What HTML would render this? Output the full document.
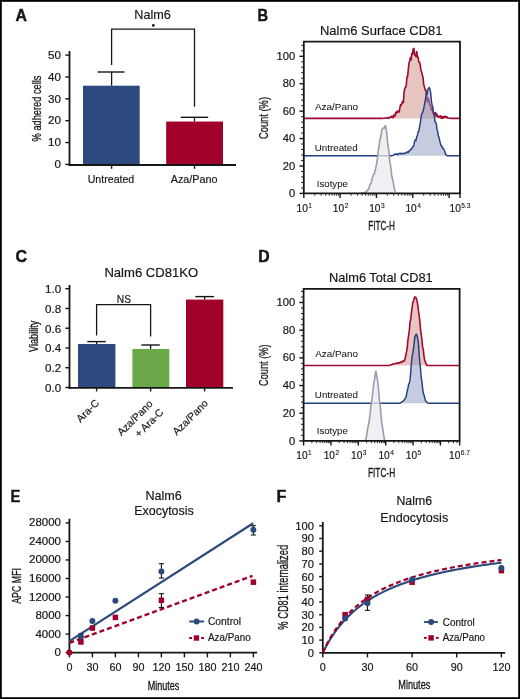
<!DOCTYPE html>
<html><head><meta charset="utf-8"><style>
html,body{margin:0;padding:0;background:#fff;}
svg{display:block;font-family:"Liberation Sans", sans-serif;will-change:transform;}
</style></head><body>
<svg width="520" height="699" viewBox="0 0 520 699">
<rect x="0" y="0" width="520" height="699" fill="#fff"/>
<rect x="0.9" y="0.9" width="518.2" height="697.2" fill="none" stroke="#000" stroke-width="1.8"/>
<text x="15.6" y="21.4" font-size="16.0" textLength="11.4" lengthAdjust="spacingAndGlyphs" font-weight="bold" fill="#161616" stroke="#161616" stroke-width="0.45">A</text>
<text x="152.6" y="19.3" font-size="13" text-anchor="middle" textLength="36.5" lengthAdjust="spacingAndGlyphs" fill="#161616" stroke="#161616" stroke-width="0.18">Nalm6</text>
<path d="M111.6 65 V29.2 H194.5 V106.7" fill="none" stroke="#161616" stroke-width="1.3"/>
<circle cx="153.3" cy="25.4" r="1.4" fill="#161616"/>
<line x1="65.30" y1="164.40" x2="69.50" y2="164.40" stroke="#161616" stroke-width="1.4"/>
<text x="61.0" y="168.1" font-size="10.4" text-anchor="end" textLength="6.48" lengthAdjust="spacingAndGlyphs" fill="#161616" stroke="#161616" stroke-width="0.18">0</text>
<line x1="65.30" y1="142.54" x2="69.50" y2="142.54" stroke="#161616" stroke-width="1.4"/>
<text x="61.0" y="146.24" font-size="10.4" text-anchor="end" textLength="12.96" lengthAdjust="spacingAndGlyphs" fill="#161616" stroke="#161616" stroke-width="0.18">10</text>
<line x1="65.30" y1="120.68" x2="69.50" y2="120.68" stroke="#161616" stroke-width="1.4"/>
<text x="61.0" y="124.38000000000001" font-size="10.4" text-anchor="end" textLength="12.96" lengthAdjust="spacingAndGlyphs" fill="#161616" stroke="#161616" stroke-width="0.18">20</text>
<line x1="65.30" y1="98.82" x2="69.50" y2="98.82" stroke="#161616" stroke-width="1.4"/>
<text x="61.0" y="102.52000000000001" font-size="10.4" text-anchor="end" textLength="12.96" lengthAdjust="spacingAndGlyphs" fill="#161616" stroke="#161616" stroke-width="0.18">30</text>
<line x1="65.30" y1="76.96" x2="69.50" y2="76.96" stroke="#161616" stroke-width="1.4"/>
<text x="61.0" y="80.66000000000001" font-size="10.4" text-anchor="end" textLength="12.96" lengthAdjust="spacingAndGlyphs" fill="#161616" stroke="#161616" stroke-width="0.18">40</text>
<line x1="65.30" y1="55.10" x2="69.50" y2="55.10" stroke="#161616" stroke-width="1.4"/>
<text x="61.0" y="58.80000000000001" font-size="10.4" text-anchor="end" textLength="12.96" lengthAdjust="spacingAndGlyphs" fill="#161616" stroke="#161616" stroke-width="0.18">50</text>
<rect x="83.00" y="85.70" width="56.70" height="78.70" fill="#2c4a7e"/>
<rect x="166.20" y="121.55" width="56.80" height="42.85" fill="#a0002a"/>
<line x1="111.60" y1="72.00" x2="111.60" y2="85.70" stroke="#161616" stroke-width="1.3"/>
<line x1="97.50" y1="72.00" x2="124.50" y2="72.00" stroke="#161616" stroke-width="1.4"/>
<line x1="194.50" y1="117.30" x2="194.50" y2="121.55" stroke="#161616" stroke-width="1.3"/>
<line x1="180.80" y1="117.30" x2="208.20" y2="117.30" stroke="#161616" stroke-width="1.4"/>
<line x1="69.50" y1="51.00" x2="69.50" y2="165.90" stroke="#161616" stroke-width="1.8"/>
<line x1="68.60" y1="165.00" x2="236.00" y2="165.00" stroke="#161616" stroke-width="1.8"/>
<line x1="111.60" y1="164.40" x2="111.60" y2="168.80" stroke="#161616" stroke-width="1.4"/>
<line x1="194.50" y1="164.40" x2="194.50" y2="168.80" stroke="#161616" stroke-width="1.4"/>
<text x="111" y="183.4" font-size="10.5" text-anchor="middle" textLength="46.6" lengthAdjust="spacingAndGlyphs" fill="#161616" stroke="#161616" stroke-width="0.18">Untreated</text>
<text x="194.1" y="183.4" font-size="10.5" text-anchor="middle" textLength="46.6" lengthAdjust="spacingAndGlyphs" fill="#161616" stroke="#161616" stroke-width="0.18">Aza/Pano</text>
<text transform="translate(41.1,108.5) rotate(-90)" x="0" y="0" font-size="13.4" text-anchor="middle" textLength="65.8" lengthAdjust="spacingAndGlyphs" fill="#161616" stroke="#161616" stroke-width="0.28">% adhered cells</text>
<text x="257.6" y="21.2" font-size="16.0" textLength="10.6" lengthAdjust="spacingAndGlyphs" font-weight="bold" fill="#161616" stroke="#161616" stroke-width="0.45">B</text>
<text x="381.25" y="35.0" font-size="12.8" text-anchor="middle" textLength="122.5" lengthAdjust="spacingAndGlyphs" fill="#161616" stroke="#161616" stroke-width="0.18">Nalm6 Surface CD81</text>
<path d="M304.00 118.40 L304.70 118.40 L305.40 118.40 L306.10 118.40 L306.80 118.40 L307.50 118.40 L308.20 118.40 L308.90 118.40 L309.60 118.40 L310.30 118.40 L311.00 118.40 L311.70 118.40 L312.40 118.40 L313.10 118.40 L313.80 118.40 L314.50 118.40 L315.20 118.40 L315.90 118.40 L316.60 118.40 L317.30 118.40 L318.00 118.40 L318.70 118.40 L319.40 118.40 L320.10 118.40 L320.80 118.40 L321.50 118.40 L322.20 118.40 L322.90 118.40 L323.60 118.40 L324.30 118.40 L325.00 118.40 L325.70 118.40 L326.40 118.40 L327.10 118.40 L327.80 118.40 L328.50 118.40 L329.20 118.40 L329.90 118.40 L330.60 118.40 L331.30 118.40 L332.00 118.40 L332.70 118.40 L333.40 118.40 L334.10 118.40 L334.80 118.40 L335.50 118.40 L336.20 118.40 L336.90 118.40 L337.60 118.40 L338.30 118.40 L339.00 118.40 L339.70 118.40 L340.40 118.40 L341.10 118.40 L341.80 118.40 L342.50 118.40 L343.20 118.40 L343.90 118.40 L344.60 118.40 L345.30 118.40 L346.00 118.40 L346.70 118.40 L347.40 118.40 L348.10 118.40 L348.80 118.40 L349.50 118.40 L350.20 118.40 L350.90 118.40 L351.60 118.40 L352.30 118.40 L353.00 118.40 L353.70 118.40 L354.40 118.40 L355.10 118.40 L355.80 118.40 L356.50 118.40 L357.20 118.40 L357.90 118.40 L358.60 118.40 L359.30 118.40 L360.00 118.40 L360.70 118.40 L361.40 118.40 L362.10 118.40 L362.80 118.40 L363.50 118.40 L364.20 118.40 L364.90 118.40 L365.60 118.40 L366.30 118.40 L367.00 118.40 L367.70 118.40 L368.40 118.40 L369.10 118.40 L369.80 118.40 L370.50 118.40 L371.20 118.40 L371.90 118.40 L372.60 118.40 L373.30 118.40 L374.00 118.40 L374.70 118.40 L375.40 118.40 L376.10 118.40 L376.80 118.40 L377.50 118.40 L378.20 118.40 L378.90 118.40 L379.60 118.40 L380.30 118.40 L381.00 118.40 L381.70 118.40 L382.40 118.38 L383.10 118.33 L383.80 118.25 L384.50 118.17 L385.20 118.07 L385.90 117.98 L386.60 117.90 L387.30 117.84 L388.00 117.80 L388.70 118.33 L389.40 117.36 L390.10 117.57 L390.80 116.65 L391.50 116.29 L392.20 117.68 L392.90 117.66 L393.60 114.98 L394.30 116.50 L395.00 116.01 L395.70 112.40 L396.40 113.49 L397.10 111.15 L397.80 112.20 L398.50 110.80 L399.20 112.01 L399.90 107.77 L400.60 104.49 L401.30 105.28 L402.00 102.86 L402.70 100.98 L403.40 102.59 L404.10 91.76 L404.80 88.50 L405.50 86.96 L406.20 86.49 L406.90 76.95 L407.60 76.67 L408.30 69.41 L409.00 63.02 L409.70 60.95 L410.40 57.50 L411.10 60.02 L411.80 53.60 L412.50 54.46 L413.20 48.93 L413.90 48.42 L414.60 54.62 L415.30 55.45 L416.00 56.60 L416.70 51.45 L417.40 57.13 L418.10 57.13 L418.80 62.22 L419.50 62.19 L420.20 64.76 L420.90 70.23 L421.60 71.80 L422.30 74.97 L423.00 77.04 L423.70 84.52 L424.40 86.84 L425.10 89.90 L425.80 89.90 L426.50 94.63 L427.20 101.49 L427.90 97.80 L428.60 99.53 L429.30 102.02 L430.00 105.54 L430.70 105.52 L431.40 110.06 L432.10 108.43 L432.80 111.56 L433.50 114.12 L434.20 115.54 L434.90 112.73 L435.60 112.61 L436.30 116.29 L437.00 114.29 L437.70 116.05 L438.40 117.25 L439.10 117.13 L439.80 115.99 L440.50 115.78 L441.20 118.17 L441.90 116.65 L442.60 118.30 L443.30 116.58 L444.00 117.73 L444.70 116.41 L445.40 116.30 L446.10 117.65 L446.80 116.56 L447.50 117.92 L448.20 118.03 L448.90 118.14 L449.60 118.23 L450.30 118.31 L451.00 118.37 L451.70 118.40 L452.40 118.40 L453.10 118.40 L453.80 118.40 L454.50 118.40 L455.20 118.40 L455.90 118.40 L456.60 118.40 L457.30 118.40 L458.00 118.40 L458.70 118.40 L459.40 118.40 L459.40 118.4 L304.00 118.4 Z" fill="#e7c6c2" fill-opacity="1.0" stroke="none"/>
<path d="M304.00 118.40 L304.70 118.40 L305.40 118.40 L306.10 118.40 L306.80 118.40 L307.50 118.40 L308.20 118.40 L308.90 118.40 L309.60 118.40 L310.30 118.40 L311.00 118.40 L311.70 118.40 L312.40 118.40 L313.10 118.40 L313.80 118.40 L314.50 118.40 L315.20 118.40 L315.90 118.40 L316.60 118.40 L317.30 118.40 L318.00 118.40 L318.70 118.40 L319.40 118.40 L320.10 118.40 L320.80 118.40 L321.50 118.40 L322.20 118.40 L322.90 118.40 L323.60 118.40 L324.30 118.40 L325.00 118.40 L325.70 118.40 L326.40 118.40 L327.10 118.40 L327.80 118.40 L328.50 118.40 L329.20 118.40 L329.90 118.40 L330.60 118.40 L331.30 118.40 L332.00 118.40 L332.70 118.40 L333.40 118.40 L334.10 118.40 L334.80 118.40 L335.50 118.40 L336.20 118.40 L336.90 118.40 L337.60 118.40 L338.30 118.40 L339.00 118.40 L339.70 118.40 L340.40 118.40 L341.10 118.40 L341.80 118.40 L342.50 118.40 L343.20 118.40 L343.90 118.40 L344.60 118.40 L345.30 118.40 L346.00 118.40 L346.70 118.40 L347.40 118.40 L348.10 118.40 L348.80 118.40 L349.50 118.40 L350.20 118.40 L350.90 118.40 L351.60 118.40 L352.30 118.40 L353.00 118.40 L353.70 118.40 L354.40 118.40 L355.10 118.40 L355.80 118.40 L356.50 118.40 L357.20 118.40 L357.90 118.40 L358.60 118.40 L359.30 118.40 L360.00 118.40 L360.70 118.40 L361.40 118.40 L362.10 118.40 L362.80 118.40 L363.50 118.40 L364.20 118.40 L364.90 118.40 L365.60 118.40 L366.30 118.40 L367.00 118.40 L367.70 118.40 L368.40 118.40 L369.10 118.40 L369.80 118.40 L370.50 118.40 L371.20 118.40 L371.90 118.40 L372.60 118.40 L373.30 118.40 L374.00 118.40 L374.70 118.40 L375.40 118.40 L376.10 118.40 L376.80 118.40 L377.50 118.40 L378.20 118.40 L378.90 118.40 L379.60 118.40 L380.30 118.40 L381.00 118.40 L381.70 118.40 L382.40 118.38 L383.10 118.33 L383.80 118.25 L384.50 118.17 L385.20 118.07 L385.90 117.98 L386.60 117.90 L387.30 117.84 L388.00 117.80 L388.70 118.33 L389.40 117.36 L390.10 117.57 L390.80 116.65 L391.50 116.29 L392.20 117.68 L392.90 117.66 L393.60 114.98 L394.30 116.50 L395.00 116.01 L395.70 112.40 L396.40 113.49 L397.10 111.15 L397.80 112.20 L398.50 110.80 L399.20 112.01 L399.90 107.77 L400.60 104.49 L401.30 105.28 L402.00 102.86 L402.70 100.98 L403.40 102.59 L404.10 91.76 L404.80 88.50 L405.50 86.96 L406.20 86.49 L406.90 76.95 L407.60 76.67 L408.30 69.41 L409.00 63.02 L409.70 60.95 L410.40 57.50 L411.10 60.02 L411.80 53.60 L412.50 54.46 L413.20 48.93 L413.90 48.42 L414.60 54.62 L415.30 55.45 L416.00 56.60 L416.70 51.45 L417.40 57.13 L418.10 57.13 L418.80 62.22 L419.50 62.19 L420.20 64.76 L420.90 70.23 L421.60 71.80 L422.30 74.97 L423.00 77.04 L423.70 84.52 L424.40 86.84 L425.10 89.90 L425.80 89.90 L426.50 94.63 L427.20 101.49 L427.90 97.80 L428.60 99.53 L429.30 102.02 L430.00 105.54 L430.70 105.52 L431.40 110.06 L432.10 108.43 L432.80 111.56 L433.50 114.12 L434.20 115.54 L434.90 112.73 L435.60 112.61 L436.30 116.29 L437.00 114.29 L437.70 116.05 L438.40 117.25 L439.10 117.13 L439.80 115.99 L440.50 115.78 L441.20 118.17 L441.90 116.65 L442.60 118.30 L443.30 116.58 L444.00 117.73 L444.70 116.41 L445.40 116.30 L446.10 117.65 L446.80 116.56 L447.50 117.92 L448.20 118.03 L448.90 118.14 L449.60 118.23 L450.30 118.31 L451.00 118.37 L451.70 118.40 L452.40 118.40 L453.10 118.40 L453.80 118.40 L454.50 118.40 L455.20 118.40 L455.90 118.40 L456.60 118.40 L457.30 118.40 L458.00 118.40 L458.70 118.40 L459.40 118.40" fill="none" stroke="#a00a30" stroke-width="1.6" stroke-linejoin="round"/>
<path d="M304.00 155.80 L304.70 155.80 L305.40 155.80 L306.10 155.80 L306.80 155.80 L307.50 155.80 L308.20 155.80 L308.90 155.80 L309.60 155.80 L310.30 155.80 L311.00 155.80 L311.70 155.80 L312.40 155.80 L313.10 155.80 L313.80 155.80 L314.50 155.80 L315.20 155.80 L315.90 155.80 L316.60 155.80 L317.30 155.80 L318.00 155.80 L318.70 155.80 L319.40 155.80 L320.10 155.80 L320.80 155.80 L321.50 155.80 L322.20 155.80 L322.90 155.80 L323.60 155.80 L324.30 155.80 L325.00 155.80 L325.70 155.80 L326.40 155.80 L327.10 155.80 L327.80 155.80 L328.50 155.80 L329.20 155.80 L329.90 155.80 L330.60 155.80 L331.30 155.80 L332.00 155.80 L332.70 155.80 L333.40 155.80 L334.10 155.80 L334.80 155.80 L335.50 155.80 L336.20 155.80 L336.90 155.80 L337.60 155.80 L338.30 155.80 L339.00 155.80 L339.70 155.80 L340.40 155.80 L341.10 155.80 L341.80 155.80 L342.50 155.80 L343.20 155.80 L343.90 155.80 L344.60 155.80 L345.30 155.80 L346.00 155.80 L346.70 155.80 L347.40 155.80 L348.10 155.80 L348.80 155.80 L349.50 155.80 L350.20 155.80 L350.90 155.80 L351.60 155.80 L352.30 155.80 L353.00 155.80 L353.70 155.80 L354.40 155.80 L355.10 155.80 L355.80 155.80 L356.50 155.80 L357.20 155.80 L357.90 155.80 L358.60 155.80 L359.30 155.80 L360.00 155.80 L360.70 155.80 L361.40 155.80 L362.10 155.80 L362.80 155.80 L363.50 155.80 L364.20 155.80 L364.90 155.80 L365.60 155.80 L366.30 155.80 L367.00 155.80 L367.70 155.80 L368.40 155.80 L369.10 155.80 L369.80 155.80 L370.50 155.80 L371.20 155.80 L371.90 155.80 L372.60 155.80 L373.30 155.80 L374.00 155.80 L374.70 155.80 L375.40 155.80 L376.10 155.80 L376.80 155.80 L377.50 155.80 L378.20 155.80 L378.90 155.80 L379.60 155.80 L380.30 155.80 L381.00 155.80 L381.70 155.80 L382.40 155.80 L383.10 155.80 L383.80 155.80 L384.50 155.80 L385.20 155.80 L385.90 155.80 L386.60 155.80 L387.30 155.80 L388.00 155.80 L388.70 155.80 L389.40 155.80 L390.10 155.80 L390.80 155.80 L391.50 155.80 L392.20 155.64 L392.90 155.36 L393.60 154.92 L394.30 154.51 L395.00 154.28 L395.70 154.05 L396.40 154.16 L397.10 153.81 L397.80 154.67 L398.50 154.03 L399.20 153.36 L399.90 153.63 L400.60 153.26 L401.30 154.10 L402.00 153.54 L402.70 153.68 L403.40 153.20 L404.10 153.10 L404.80 153.71 L405.50 153.27 L406.20 153.00 L406.90 151.95 L407.60 152.04 L408.30 152.52 L409.00 150.86 L409.70 151.01 L410.40 149.25 L411.10 149.36 L411.80 149.10 L412.50 146.63 L413.20 146.72 L413.90 145.00 L414.60 141.07 L415.30 139.78 L416.00 140.67 L416.70 136.72 L417.40 135.31 L418.10 131.80 L418.80 131.40 L419.50 126.85 L420.20 124.00 L420.90 118.29 L421.60 114.10 L422.30 113.22 L423.00 111.19 L423.70 108.82 L424.40 104.88 L425.10 101.03 L425.80 96.77 L426.50 93.63 L427.20 94.30 L427.90 89.42 L428.60 88.28 L429.30 87.40 L430.00 88.94 L430.70 93.10 L431.40 100.89 L432.10 105.28 L432.80 106.87 L433.50 112.96 L434.20 114.06 L434.90 121.63 L435.60 122.06 L436.30 123.53 L437.00 129.80 L437.70 131.31 L438.40 136.35 L439.10 137.23 L439.80 141.17 L440.50 143.70 L441.20 145.90 L441.90 145.86 L442.60 148.24 L443.30 148.26 L444.00 149.50 L444.70 151.22 L445.40 153.64 L446.10 154.91 L446.80 155.64 L447.50 155.80 L448.20 155.80 L448.90 155.80 L449.60 155.80 L450.30 155.80 L451.00 155.80 L451.70 155.80 L452.40 155.80 L453.10 155.80 L453.80 155.80 L454.50 155.80 L455.20 155.80 L455.90 155.80 L456.60 155.80 L457.30 155.80 L458.00 155.80 L458.70 155.80 L459.40 155.80 L459.40 155.8 L304.00 155.8 Z" fill="#8f98c2" fill-opacity="0.5" stroke="none"/>
<path d="M304.00 155.80 L304.70 155.80 L305.40 155.80 L306.10 155.80 L306.80 155.80 L307.50 155.80 L308.20 155.80 L308.90 155.80 L309.60 155.80 L310.30 155.80 L311.00 155.80 L311.70 155.80 L312.40 155.80 L313.10 155.80 L313.80 155.80 L314.50 155.80 L315.20 155.80 L315.90 155.80 L316.60 155.80 L317.30 155.80 L318.00 155.80 L318.70 155.80 L319.40 155.80 L320.10 155.80 L320.80 155.80 L321.50 155.80 L322.20 155.80 L322.90 155.80 L323.60 155.80 L324.30 155.80 L325.00 155.80 L325.70 155.80 L326.40 155.80 L327.10 155.80 L327.80 155.80 L328.50 155.80 L329.20 155.80 L329.90 155.80 L330.60 155.80 L331.30 155.80 L332.00 155.80 L332.70 155.80 L333.40 155.80 L334.10 155.80 L334.80 155.80 L335.50 155.80 L336.20 155.80 L336.90 155.80 L337.60 155.80 L338.30 155.80 L339.00 155.80 L339.70 155.80 L340.40 155.80 L341.10 155.80 L341.80 155.80 L342.50 155.80 L343.20 155.80 L343.90 155.80 L344.60 155.80 L345.30 155.80 L346.00 155.80 L346.70 155.80 L347.40 155.80 L348.10 155.80 L348.80 155.80 L349.50 155.80 L350.20 155.80 L350.90 155.80 L351.60 155.80 L352.30 155.80 L353.00 155.80 L353.70 155.80 L354.40 155.80 L355.10 155.80 L355.80 155.80 L356.50 155.80 L357.20 155.80 L357.90 155.80 L358.60 155.80 L359.30 155.80 L360.00 155.80 L360.70 155.80 L361.40 155.80 L362.10 155.80 L362.80 155.80 L363.50 155.80 L364.20 155.80 L364.90 155.80 L365.60 155.80 L366.30 155.80 L367.00 155.80 L367.70 155.80 L368.40 155.80 L369.10 155.80 L369.80 155.80 L370.50 155.80 L371.20 155.80 L371.90 155.80 L372.60 155.80 L373.30 155.80 L374.00 155.80 L374.70 155.80 L375.40 155.80 L376.10 155.80 L376.80 155.80 L377.50 155.80 L378.20 155.80 L378.90 155.80 L379.60 155.80 L380.30 155.80 L381.00 155.80 L381.70 155.80 L382.40 155.80 L383.10 155.80 L383.80 155.80 L384.50 155.80 L385.20 155.80 L385.90 155.80 L386.60 155.80 L387.30 155.80 L388.00 155.80 L388.70 155.80 L389.40 155.80 L390.10 155.80 L390.80 155.80 L391.50 155.80 L392.20 155.64 L392.90 155.36 L393.60 154.92 L394.30 154.51 L395.00 154.28 L395.70 154.05 L396.40 154.16 L397.10 153.81 L397.80 154.67 L398.50 154.03 L399.20 153.36 L399.90 153.63 L400.60 153.26 L401.30 154.10 L402.00 153.54 L402.70 153.68 L403.40 153.20 L404.10 153.10 L404.80 153.71 L405.50 153.27 L406.20 153.00 L406.90 151.95 L407.60 152.04 L408.30 152.52 L409.00 150.86 L409.70 151.01 L410.40 149.25 L411.10 149.36 L411.80 149.10 L412.50 146.63 L413.20 146.72 L413.90 145.00 L414.60 141.07 L415.30 139.78 L416.00 140.67 L416.70 136.72 L417.40 135.31 L418.10 131.80 L418.80 131.40 L419.50 126.85 L420.20 124.00 L420.90 118.29 L421.60 114.10 L422.30 113.22 L423.00 111.19 L423.70 108.82 L424.40 104.88 L425.10 101.03 L425.80 96.77 L426.50 93.63 L427.20 94.30 L427.90 89.42 L428.60 88.28 L429.30 87.40 L430.00 88.94 L430.70 93.10 L431.40 100.89 L432.10 105.28 L432.80 106.87 L433.50 112.96 L434.20 114.06 L434.90 121.63 L435.60 122.06 L436.30 123.53 L437.00 129.80 L437.70 131.31 L438.40 136.35 L439.10 137.23 L439.80 141.17 L440.50 143.70 L441.20 145.90 L441.90 145.86 L442.60 148.24 L443.30 148.26 L444.00 149.50 L444.70 151.22 L445.40 153.64 L446.10 154.91 L446.80 155.64 L447.50 155.80 L448.20 155.80 L448.90 155.80 L449.60 155.80 L450.30 155.80 L451.00 155.80 L451.70 155.80 L452.40 155.80 L453.10 155.80 L453.80 155.80 L454.50 155.80 L455.20 155.80 L455.90 155.80 L456.60 155.80 L457.30 155.80 L458.00 155.80 L458.70 155.80 L459.40 155.80" fill="none" stroke="#223f80" stroke-width="1.45" stroke-linejoin="round"/>
<path d="M361.00 193.40 L361.70 193.30 L362.40 193.13 L363.10 192.92 L363.80 192.75 L364.50 192.68 L365.20 192.75 L365.90 191.53 L366.60 191.68 L367.30 190.42 L368.00 189.51 L368.70 189.27 L369.40 186.41 L370.10 184.09 L370.80 183.98 L371.50 181.70 L372.20 178.26 L372.90 176.42 L373.60 174.14 L374.30 174.13 L375.00 171.04 L375.70 168.35 L376.40 164.61 L377.10 161.25 L377.80 155.37 L378.50 149.12 L379.20 145.50 L379.90 138.87 L380.60 138.31 L381.30 133.49 L382.00 129.44 L382.70 128.37 L383.40 127.98 L384.10 128.23 L384.80 126.26 L385.50 125.70 L386.20 129.53 L386.90 134.55 L387.60 142.97 L388.30 147.74 L389.00 151.75 L389.70 161.17 L390.40 164.37 L391.10 169.84 L391.80 176.50 L392.50 178.84 L393.20 181.85 L393.90 186.27 L394.60 189.32 L395.30 192.09 L395.30 193.4 L361.00 193.4 Z" fill="#ebebef" fill-opacity="0.75" stroke="none"/>
<path d="M361.00 193.40 L361.70 193.30 L362.40 193.13 L363.10 192.92 L363.80 192.75 L364.50 192.68 L365.20 192.75 L365.90 191.53 L366.60 191.68 L367.30 190.42 L368.00 189.51 L368.70 189.27 L369.40 186.41 L370.10 184.09 L370.80 183.98 L371.50 181.70 L372.20 178.26 L372.90 176.42 L373.60 174.14 L374.30 174.13 L375.00 171.04 L375.70 168.35 L376.40 164.61 L377.10 161.25 L377.80 155.37 L378.50 149.12 L379.20 145.50 L379.90 138.87 L380.60 138.31 L381.30 133.49 L382.00 129.44 L382.70 128.37 L383.40 127.98 L384.10 128.23 L384.80 126.26 L385.50 125.70 L386.20 129.53 L386.90 134.55 L387.60 142.97 L388.30 147.74 L389.00 151.75 L389.70 161.17 L390.40 164.37 L391.10 169.84 L391.80 176.50 L392.50 178.84 L393.20 181.85 L393.90 186.27 L394.60 189.32 L395.30 192.09" fill="none" stroke="#9c9cae" stroke-width="1.6" stroke-linejoin="round"/>
<path d="M303.8 41.6 H460.0 V193.4 H303.8 Z" fill="none" stroke="#161616" stroke-width="1.8"/>
<line x1="299.50" y1="193.40" x2="303.80" y2="193.40" stroke="#161616" stroke-width="1.4"/>
<text x="295.3" y="197.0" font-size="10.2" text-anchor="end" textLength="6.24" lengthAdjust="spacingAndGlyphs" fill="#161616" stroke="#161616" stroke-width="0.18">0</text>
<line x1="301.20" y1="187.92" x2="303.80" y2="187.92" stroke="#161616" stroke-width="1.0"/>
<line x1="301.20" y1="182.43" x2="303.80" y2="182.43" stroke="#161616" stroke-width="1.0"/>
<line x1="301.20" y1="176.95" x2="303.80" y2="176.95" stroke="#161616" stroke-width="1.0"/>
<line x1="301.20" y1="171.46" x2="303.80" y2="171.46" stroke="#161616" stroke-width="1.0"/>
<line x1="299.50" y1="165.98" x2="303.80" y2="165.98" stroke="#161616" stroke-width="1.4"/>
<text x="295.3" y="169.58" font-size="10.2" text-anchor="end" textLength="12.48" lengthAdjust="spacingAndGlyphs" fill="#161616" stroke="#161616" stroke-width="0.18">20</text>
<line x1="301.20" y1="160.50" x2="303.80" y2="160.50" stroke="#161616" stroke-width="1.0"/>
<line x1="301.20" y1="155.01" x2="303.80" y2="155.01" stroke="#161616" stroke-width="1.0"/>
<line x1="301.20" y1="149.53" x2="303.80" y2="149.53" stroke="#161616" stroke-width="1.0"/>
<line x1="301.20" y1="144.04" x2="303.80" y2="144.04" stroke="#161616" stroke-width="1.0"/>
<line x1="299.50" y1="138.56" x2="303.80" y2="138.56" stroke="#161616" stroke-width="1.4"/>
<text x="295.3" y="142.16" font-size="10.2" text-anchor="end" textLength="12.48" lengthAdjust="spacingAndGlyphs" fill="#161616" stroke="#161616" stroke-width="0.18">40</text>
<line x1="301.20" y1="133.08" x2="303.80" y2="133.08" stroke="#161616" stroke-width="1.0"/>
<line x1="301.20" y1="127.59" x2="303.80" y2="127.59" stroke="#161616" stroke-width="1.0"/>
<line x1="301.20" y1="122.11" x2="303.80" y2="122.11" stroke="#161616" stroke-width="1.0"/>
<line x1="301.20" y1="116.62" x2="303.80" y2="116.62" stroke="#161616" stroke-width="1.0"/>
<line x1="299.50" y1="111.14" x2="303.80" y2="111.14" stroke="#161616" stroke-width="1.4"/>
<text x="295.3" y="114.74" font-size="10.2" text-anchor="end" textLength="12.48" lengthAdjust="spacingAndGlyphs" fill="#161616" stroke="#161616" stroke-width="0.18">60</text>
<line x1="301.20" y1="105.66" x2="303.80" y2="105.66" stroke="#161616" stroke-width="1.0"/>
<line x1="301.20" y1="100.17" x2="303.80" y2="100.17" stroke="#161616" stroke-width="1.0"/>
<line x1="301.20" y1="94.69" x2="303.80" y2="94.69" stroke="#161616" stroke-width="1.0"/>
<line x1="301.20" y1="89.20" x2="303.80" y2="89.20" stroke="#161616" stroke-width="1.0"/>
<line x1="299.50" y1="83.72" x2="303.80" y2="83.72" stroke="#161616" stroke-width="1.4"/>
<text x="295.3" y="87.32" font-size="10.2" text-anchor="end" textLength="12.48" lengthAdjust="spacingAndGlyphs" fill="#161616" stroke="#161616" stroke-width="0.18">80</text>
<line x1="301.20" y1="78.24" x2="303.80" y2="78.24" stroke="#161616" stroke-width="1.0"/>
<line x1="301.20" y1="72.75" x2="303.80" y2="72.75" stroke="#161616" stroke-width="1.0"/>
<line x1="301.20" y1="67.27" x2="303.80" y2="67.27" stroke="#161616" stroke-width="1.0"/>
<line x1="301.20" y1="61.78" x2="303.80" y2="61.78" stroke="#161616" stroke-width="1.0"/>
<line x1="299.50" y1="56.30" x2="303.80" y2="56.30" stroke="#161616" stroke-width="1.4"/>
<text x="295.3" y="59.90000000000001" font-size="10.2" text-anchor="end" textLength="18.72" lengthAdjust="spacingAndGlyphs" fill="#161616" stroke="#161616" stroke-width="0.18">100</text>
<line x1="301.20" y1="50.82" x2="303.80" y2="50.82" stroke="#161616" stroke-width="1.0"/>
<line x1="301.20" y1="45.33" x2="303.80" y2="45.33" stroke="#161616" stroke-width="1.0"/>
<line x1="303.80" y1="193.40" x2="303.80" y2="198.00" stroke="#161616" stroke-width="1.4"/>
<line x1="314.74" y1="193.40" x2="314.74" y2="195.70" stroke="#161616" stroke-width="0.9"/>
<line x1="321.13" y1="193.40" x2="321.13" y2="195.70" stroke="#161616" stroke-width="0.9"/>
<line x1="325.67" y1="193.40" x2="325.67" y2="195.70" stroke="#161616" stroke-width="0.9"/>
<line x1="329.19" y1="193.40" x2="329.19" y2="195.70" stroke="#161616" stroke-width="0.9"/>
<line x1="332.07" y1="193.40" x2="332.07" y2="195.70" stroke="#161616" stroke-width="0.9"/>
<line x1="334.50" y1="193.40" x2="334.50" y2="195.70" stroke="#161616" stroke-width="0.9"/>
<line x1="336.61" y1="193.40" x2="336.61" y2="195.70" stroke="#161616" stroke-width="0.9"/>
<line x1="338.46" y1="193.40" x2="338.46" y2="195.70" stroke="#161616" stroke-width="0.9"/>
<line x1="340.13" y1="193.40" x2="340.13" y2="198.00" stroke="#161616" stroke-width="1.4"/>
<line x1="351.06" y1="193.40" x2="351.06" y2="195.70" stroke="#161616" stroke-width="0.9"/>
<line x1="357.46" y1="193.40" x2="357.46" y2="195.70" stroke="#161616" stroke-width="0.9"/>
<line x1="362.00" y1="193.40" x2="362.00" y2="195.70" stroke="#161616" stroke-width="0.9"/>
<line x1="365.52" y1="193.40" x2="365.52" y2="195.70" stroke="#161616" stroke-width="0.9"/>
<line x1="368.39" y1="193.40" x2="368.39" y2="195.70" stroke="#161616" stroke-width="0.9"/>
<line x1="370.82" y1="193.40" x2="370.82" y2="195.70" stroke="#161616" stroke-width="0.9"/>
<line x1="372.93" y1="193.40" x2="372.93" y2="195.70" stroke="#161616" stroke-width="0.9"/>
<line x1="374.79" y1="193.40" x2="374.79" y2="195.70" stroke="#161616" stroke-width="0.9"/>
<line x1="376.45" y1="193.40" x2="376.45" y2="198.00" stroke="#161616" stroke-width="1.4"/>
<line x1="387.39" y1="193.40" x2="387.39" y2="195.70" stroke="#161616" stroke-width="0.9"/>
<line x1="393.78" y1="193.40" x2="393.78" y2="195.70" stroke="#161616" stroke-width="0.9"/>
<line x1="398.32" y1="193.40" x2="398.32" y2="195.70" stroke="#161616" stroke-width="0.9"/>
<line x1="401.84" y1="193.40" x2="401.84" y2="195.70" stroke="#161616" stroke-width="0.9"/>
<line x1="404.72" y1="193.40" x2="404.72" y2="195.70" stroke="#161616" stroke-width="0.9"/>
<line x1="407.15" y1="193.40" x2="407.15" y2="195.70" stroke="#161616" stroke-width="0.9"/>
<line x1="409.26" y1="193.40" x2="409.26" y2="195.70" stroke="#161616" stroke-width="0.9"/>
<line x1="411.11" y1="193.40" x2="411.11" y2="195.70" stroke="#161616" stroke-width="0.9"/>
<line x1="412.78" y1="193.40" x2="412.78" y2="198.00" stroke="#161616" stroke-width="1.4"/>
<line x1="423.71" y1="193.40" x2="423.71" y2="195.70" stroke="#161616" stroke-width="0.9"/>
<line x1="430.11" y1="193.40" x2="430.11" y2="195.70" stroke="#161616" stroke-width="0.9"/>
<line x1="434.65" y1="193.40" x2="434.65" y2="195.70" stroke="#161616" stroke-width="0.9"/>
<line x1="438.17" y1="193.40" x2="438.17" y2="195.70" stroke="#161616" stroke-width="0.9"/>
<line x1="441.04" y1="193.40" x2="441.04" y2="195.70" stroke="#161616" stroke-width="0.9"/>
<line x1="443.48" y1="193.40" x2="443.48" y2="195.70" stroke="#161616" stroke-width="0.9"/>
<line x1="445.58" y1="193.40" x2="445.58" y2="195.70" stroke="#161616" stroke-width="0.9"/>
<line x1="447.44" y1="193.40" x2="447.44" y2="195.70" stroke="#161616" stroke-width="0.9"/>
<line x1="449.10" y1="193.40" x2="449.10" y2="198.00" stroke="#161616" stroke-width="1.4"/>
<line x1="460.00" y1="193.40" x2="460.00" y2="198.00" stroke="#161616" stroke-width="1.4"/>
<text x="296.5" y="211.8" font-size="10.8" textLength="11.3" lengthAdjust="spacingAndGlyphs" fill="#161616" stroke="#161616" stroke-width="0.18">10</text>
<text x="308.3" y="207.60000000000002" font-size="6.6" fill="#161616" stroke="#161616" stroke-width="0.1">1</text>
<text x="332.8255813953488" y="211.8" font-size="10.8" textLength="11.3" lengthAdjust="spacingAndGlyphs" fill="#161616" stroke="#161616" stroke-width="0.18">10</text>
<text x="344.62558139534883" y="207.60000000000002" font-size="6.6" fill="#161616" stroke="#161616" stroke-width="0.1">2</text>
<text x="369.1511627906977" y="211.8" font-size="10.8" textLength="11.3" lengthAdjust="spacingAndGlyphs" fill="#161616" stroke="#161616" stroke-width="0.18">10</text>
<text x="380.9511627906977" y="207.60000000000002" font-size="6.6" fill="#161616" stroke="#161616" stroke-width="0.1">3</text>
<text x="405.4767441860465" y="211.8" font-size="10.8" textLength="11.3" lengthAdjust="spacingAndGlyphs" fill="#161616" stroke="#161616" stroke-width="0.18">10</text>
<text x="417.2767441860465" y="207.60000000000002" font-size="6.6" fill="#161616" stroke="#161616" stroke-width="0.1">4</text>
<text x="449.5" y="211.8" font-size="10.8" textLength="11.3" lengthAdjust="spacingAndGlyphs" fill="#161616" stroke="#161616" stroke-width="0.18">10</text>
<text x="461.2" y="207.60000000000002" font-size="6.6" fill="#161616" stroke="#161616" stroke-width="0.1">5.3</text>
<text x="315" y="110" font-size="9.8" textLength="43" lengthAdjust="spacingAndGlyphs" fill="#161616" stroke="#161616" stroke-width="0.05">Aza/Pano</text>
<text x="314.7" y="150.8" font-size="9.8" textLength="43" lengthAdjust="spacingAndGlyphs" fill="#161616" stroke="#161616" stroke-width="0.05">Untreated</text>
<text x="316.7" y="186.7" font-size="9.8" textLength="31.3" lengthAdjust="spacingAndGlyphs" fill="#161616" stroke="#161616" stroke-width="0.05">Isotype</text>
<text transform="translate(267.9,118) rotate(-90)" x="0" y="0" font-size="13.4" text-anchor="middle" textLength="42.1" lengthAdjust="spacingAndGlyphs" fill="#161616" stroke="#161616" stroke-width="0.28">Count (%)</text>
<text x="381.6" y="230" font-size="13.2" text-anchor="middle" textLength="26.8" lengthAdjust="spacingAndGlyphs" fill="#161616" stroke="#161616" stroke-width="0.32">FITC-H</text>
<text x="15.6" y="262.0" font-size="16.0" textLength="11.6" lengthAdjust="spacingAndGlyphs" font-weight="bold" fill="#161616" stroke="#161616" stroke-width="0.45">C</text>
<text x="151.3" y="277.3" font-size="12.8" text-anchor="middle" textLength="93.8" lengthAdjust="spacingAndGlyphs" fill="#161616" stroke="#161616" stroke-width="0.18">Nalm6 CD81KO</text>
<line x1="65.30" y1="387.50" x2="69.50" y2="387.50" stroke="#161616" stroke-width="1.4"/>
<text x="61.3" y="391.9" font-size="10.2" text-anchor="end" textLength="16.16" lengthAdjust="spacingAndGlyphs" fill="#161616" stroke="#161616" stroke-width="0.18">0.0</text>
<line x1="65.30" y1="367.74" x2="69.50" y2="367.74" stroke="#161616" stroke-width="1.4"/>
<text x="61.3" y="372.14" font-size="10.2" text-anchor="end" textLength="16.16" lengthAdjust="spacingAndGlyphs" fill="#161616" stroke="#161616" stroke-width="0.18">0.2</text>
<line x1="65.30" y1="347.98" x2="69.50" y2="347.98" stroke="#161616" stroke-width="1.4"/>
<text x="61.3" y="352.38" font-size="10.2" text-anchor="end" textLength="16.16" lengthAdjust="spacingAndGlyphs" fill="#161616" stroke="#161616" stroke-width="0.18">0.4</text>
<line x1="65.30" y1="328.22" x2="69.50" y2="328.22" stroke="#161616" stroke-width="1.4"/>
<text x="61.3" y="332.61999999999995" font-size="10.2" text-anchor="end" textLength="16.16" lengthAdjust="spacingAndGlyphs" fill="#161616" stroke="#161616" stroke-width="0.18">0.6</text>
<line x1="65.30" y1="308.46" x2="69.50" y2="308.46" stroke="#161616" stroke-width="1.4"/>
<text x="61.3" y="312.85999999999996" font-size="10.2" text-anchor="end" textLength="16.16" lengthAdjust="spacingAndGlyphs" fill="#161616" stroke="#161616" stroke-width="0.18">0.8</text>
<line x1="65.30" y1="288.70" x2="69.50" y2="288.70" stroke="#161616" stroke-width="1.4"/>
<text x="61.3" y="293.09999999999997" font-size="10.2" text-anchor="end" textLength="16.16" lengthAdjust="spacingAndGlyphs" fill="#161616" stroke="#161616" stroke-width="0.18">1.0</text>
<rect x="78.00" y="344.03" width="37.40" height="43.47" fill="#2c4a7e"/>
<rect x="132.40" y="348.97" width="36.90" height="38.53" fill="#6aa84a"/>
<rect x="186.00" y="299.57" width="37.30" height="87.93" fill="#a0002a"/>
<line x1="96.60" y1="341.60" x2="96.60" y2="344.03" stroke="#161616" stroke-width="1.3"/>
<line x1="87.30" y1="341.60" x2="105.80" y2="341.60" stroke="#161616" stroke-width="1.4"/>
<line x1="150.60" y1="345.00" x2="150.60" y2="348.97" stroke="#161616" stroke-width="1.3"/>
<line x1="141.30" y1="345.00" x2="159.80" y2="345.00" stroke="#161616" stroke-width="1.4"/>
<line x1="204.60" y1="296.60" x2="204.60" y2="299.57" stroke="#161616" stroke-width="1.3"/>
<line x1="195.30" y1="296.60" x2="214.00" y2="296.60" stroke="#161616" stroke-width="1.4"/>
<path d="M96.6 335.4 V304.7 H150.6 V336.4" fill="none" stroke="#161616" stroke-width="1.3"/>
<text x="123.9" y="302.5" font-size="10" text-anchor="middle" textLength="14.2" lengthAdjust="spacingAndGlyphs" fill="#161616" stroke="#161616" stroke-width="0.18">NS</text>
<line x1="69.50" y1="285.00" x2="69.50" y2="389.00" stroke="#161616" stroke-width="1.8"/>
<line x1="68.60" y1="387.90" x2="233.00" y2="387.90" stroke="#161616" stroke-width="1.8"/>
<line x1="96.60" y1="387.50" x2="96.60" y2="391.50" stroke="#161616" stroke-width="1.4"/>
<line x1="150.60" y1="387.50" x2="150.60" y2="391.50" stroke="#161616" stroke-width="1.4"/>
<line x1="204.60" y1="387.50" x2="204.60" y2="391.50" stroke="#161616" stroke-width="1.4"/>
<text transform="translate(37.9,336.3) rotate(-90)" x="0" y="0" font-size="13" text-anchor="middle" textLength="31.2" lengthAdjust="spacingAndGlyphs" fill="#161616" stroke="#161616" stroke-width="0.28">Viability</text>
<text transform="translate(99.8,403.7) rotate(-45)" font-size="10.4" text-anchor="end" fill="#161616" stroke="#161616" stroke-width="0.18"><tspan x="0" y="0">Ara-C</tspan></text>
<text transform="translate(153.4,404.5) rotate(-45)" font-size="10.4" text-anchor="end" fill="#161616" stroke="#161616" stroke-width="0.18"><tspan x="0" y="0">Aza/Pano</tspan><tspan x="1.5" y="13.5">+ Ara-C</tspan></text>
<text transform="translate(208.7,404) rotate(-45)" font-size="10.4" text-anchor="end" fill="#161616" stroke="#161616" stroke-width="0.18"><tspan x="0" y="0">Aza/Pano</tspan></text>
<text x="258.2" y="262.0" font-size="16.0" textLength="11.4" lengthAdjust="spacingAndGlyphs" font-weight="bold" fill="#161616" stroke="#161616" stroke-width="0.45">D</text>
<text x="380.85" y="282.3" font-size="12.8" text-anchor="middle" textLength="103.7" lengthAdjust="spacingAndGlyphs" fill="#161616" stroke="#161616" stroke-width="0.18">Nalm6 Total CD81</text>
<path d="M303.60 365.50 L304.30 365.50 L305.00 365.50 L305.70 365.50 L306.40 365.50 L307.10 365.50 L307.80 365.50 L308.50 365.50 L309.20 365.50 L309.90 365.50 L310.60 365.50 L311.30 365.50 L312.00 365.50 L312.70 365.50 L313.40 365.50 L314.10 365.50 L314.80 365.50 L315.50 365.50 L316.20 365.50 L316.90 365.50 L317.60 365.50 L318.30 365.50 L319.00 365.50 L319.70 365.50 L320.40 365.50 L321.10 365.50 L321.80 365.50 L322.50 365.50 L323.20 365.50 L323.90 365.50 L324.60 365.50 L325.30 365.50 L326.00 365.50 L326.70 365.50 L327.40 365.50 L328.10 365.50 L328.80 365.50 L329.50 365.50 L330.20 365.50 L330.90 365.50 L331.60 365.50 L332.30 365.50 L333.00 365.50 L333.70 365.50 L334.40 365.50 L335.10 365.50 L335.80 365.50 L336.50 365.50 L337.20 365.50 L337.90 365.50 L338.60 365.50 L339.30 365.50 L340.00 365.50 L340.70 365.50 L341.40 365.50 L342.10 365.50 L342.80 365.50 L343.50 365.50 L344.20 365.50 L344.90 365.50 L345.60 365.50 L346.30 365.50 L347.00 365.50 L347.70 365.50 L348.40 365.50 L349.10 365.50 L349.80 365.50 L350.50 365.50 L351.20 365.50 L351.90 365.50 L352.60 365.50 L353.30 365.50 L354.00 365.50 L354.70 365.50 L355.40 365.50 L356.10 365.50 L356.80 365.50 L357.50 365.50 L358.20 365.50 L358.90 365.50 L359.60 365.50 L360.30 365.50 L361.00 365.50 L361.70 365.50 L362.40 365.50 L363.10 365.50 L363.80 365.50 L364.50 365.50 L365.20 365.50 L365.90 365.50 L366.60 365.50 L367.30 365.50 L368.00 365.50 L368.70 365.50 L369.40 365.50 L370.10 365.50 L370.80 365.50 L371.50 365.50 L372.20 365.50 L372.90 365.50 L373.60 365.50 L374.30 365.50 L375.00 365.50 L375.70 365.50 L376.40 365.50 L377.10 365.50 L377.80 365.50 L378.50 365.50 L379.20 365.50 L379.90 365.50 L380.60 365.50 L381.30 365.50 L382.00 365.50 L382.70 365.50 L383.40 365.50 L384.10 365.50 L384.80 365.50 L385.50 365.50 L386.20 365.50 L386.90 365.50 L387.60 365.50 L388.30 365.50 L389.00 365.50 L389.70 365.37 L390.40 365.05 L391.10 364.73 L391.80 364.39 L392.50 363.97 L393.20 364.19 L393.90 363.93 L394.60 363.63 L395.30 363.81 L396.00 363.39 L396.70 363.16 L397.40 362.81 L398.10 363.27 L398.80 362.84 L399.50 362.90 L400.20 362.05 L400.90 362.04 L401.60 362.55 L402.30 361.30 L403.00 361.10 L403.70 361.29 L404.40 360.83 L405.10 358.58 L405.80 355.28 L406.50 351.94 L407.20 348.06 L407.90 340.01 L408.60 335.36 L409.30 330.66 L410.00 322.59 L410.70 319.04 L411.40 313.07 L412.10 307.51 L412.80 302.34 L413.50 301.08 L414.20 298.37 L414.90 296.80 L415.60 297.31 L416.30 298.31 L417.00 300.61 L417.70 304.49 L418.40 310.25 L419.10 315.24 L419.80 320.57 L420.50 328.88 L421.20 334.23 L421.90 339.51 L422.60 347.14 L423.30 349.40 L424.00 356.13 L424.70 360.31 L425.40 362.03 L426.10 364.10 L426.80 364.96 L427.50 365.50 L428.20 365.50 L428.90 365.50 L429.60 365.50 L430.30 365.50 L431.00 365.50 L431.70 365.50 L432.40 365.50 L433.10 365.50 L433.80 365.50 L434.50 365.50 L435.20 365.50 L435.90 365.50 L436.60 365.50 L437.30 365.50 L438.00 365.50 L438.70 365.50 L439.40 365.50 L440.10 365.50 L440.80 365.50 L441.50 365.50 L442.20 365.50 L442.90 365.50 L443.60 365.50 L444.30 365.50 L445.00 365.50 L445.70 365.50 L446.40 365.50 L447.10 365.50 L447.80 365.50 L448.50 365.50 L449.20 365.50 L449.90 365.50 L450.60 365.50 L451.30 365.50 L452.00 365.50 L452.70 365.50 L453.40 365.50 L454.10 365.50 L454.80 365.50 L455.50 365.50 L456.20 365.50 L456.90 365.50 L457.60 365.50 L458.30 365.50 L459.00 365.50 L459.00 365.5 L303.60 365.5 Z" fill="#e7c6c2" fill-opacity="1.0" stroke="none"/>
<path d="M303.60 365.50 L304.30 365.50 L305.00 365.50 L305.70 365.50 L306.40 365.50 L307.10 365.50 L307.80 365.50 L308.50 365.50 L309.20 365.50 L309.90 365.50 L310.60 365.50 L311.30 365.50 L312.00 365.50 L312.70 365.50 L313.40 365.50 L314.10 365.50 L314.80 365.50 L315.50 365.50 L316.20 365.50 L316.90 365.50 L317.60 365.50 L318.30 365.50 L319.00 365.50 L319.70 365.50 L320.40 365.50 L321.10 365.50 L321.80 365.50 L322.50 365.50 L323.20 365.50 L323.90 365.50 L324.60 365.50 L325.30 365.50 L326.00 365.50 L326.70 365.50 L327.40 365.50 L328.10 365.50 L328.80 365.50 L329.50 365.50 L330.20 365.50 L330.90 365.50 L331.60 365.50 L332.30 365.50 L333.00 365.50 L333.70 365.50 L334.40 365.50 L335.10 365.50 L335.80 365.50 L336.50 365.50 L337.20 365.50 L337.90 365.50 L338.60 365.50 L339.30 365.50 L340.00 365.50 L340.70 365.50 L341.40 365.50 L342.10 365.50 L342.80 365.50 L343.50 365.50 L344.20 365.50 L344.90 365.50 L345.60 365.50 L346.30 365.50 L347.00 365.50 L347.70 365.50 L348.40 365.50 L349.10 365.50 L349.80 365.50 L350.50 365.50 L351.20 365.50 L351.90 365.50 L352.60 365.50 L353.30 365.50 L354.00 365.50 L354.70 365.50 L355.40 365.50 L356.10 365.50 L356.80 365.50 L357.50 365.50 L358.20 365.50 L358.90 365.50 L359.60 365.50 L360.30 365.50 L361.00 365.50 L361.70 365.50 L362.40 365.50 L363.10 365.50 L363.80 365.50 L364.50 365.50 L365.20 365.50 L365.90 365.50 L366.60 365.50 L367.30 365.50 L368.00 365.50 L368.70 365.50 L369.40 365.50 L370.10 365.50 L370.80 365.50 L371.50 365.50 L372.20 365.50 L372.90 365.50 L373.60 365.50 L374.30 365.50 L375.00 365.50 L375.70 365.50 L376.40 365.50 L377.10 365.50 L377.80 365.50 L378.50 365.50 L379.20 365.50 L379.90 365.50 L380.60 365.50 L381.30 365.50 L382.00 365.50 L382.70 365.50 L383.40 365.50 L384.10 365.50 L384.80 365.50 L385.50 365.50 L386.20 365.50 L386.90 365.50 L387.60 365.50 L388.30 365.50 L389.00 365.50 L389.70 365.37 L390.40 365.05 L391.10 364.73 L391.80 364.39 L392.50 363.97 L393.20 364.19 L393.90 363.93 L394.60 363.63 L395.30 363.81 L396.00 363.39 L396.70 363.16 L397.40 362.81 L398.10 363.27 L398.80 362.84 L399.50 362.90 L400.20 362.05 L400.90 362.04 L401.60 362.55 L402.30 361.30 L403.00 361.10 L403.70 361.29 L404.40 360.83 L405.10 358.58 L405.80 355.28 L406.50 351.94 L407.20 348.06 L407.90 340.01 L408.60 335.36 L409.30 330.66 L410.00 322.59 L410.70 319.04 L411.40 313.07 L412.10 307.51 L412.80 302.34 L413.50 301.08 L414.20 298.37 L414.90 296.80 L415.60 297.31 L416.30 298.31 L417.00 300.61 L417.70 304.49 L418.40 310.25 L419.10 315.24 L419.80 320.57 L420.50 328.88 L421.20 334.23 L421.90 339.51 L422.60 347.14 L423.30 349.40 L424.00 356.13 L424.70 360.31 L425.40 362.03 L426.10 364.10 L426.80 364.96 L427.50 365.50 L428.20 365.50 L428.90 365.50 L429.60 365.50 L430.30 365.50 L431.00 365.50 L431.70 365.50 L432.40 365.50 L433.10 365.50 L433.80 365.50 L434.50 365.50 L435.20 365.50 L435.90 365.50 L436.60 365.50 L437.30 365.50 L438.00 365.50 L438.70 365.50 L439.40 365.50 L440.10 365.50 L440.80 365.50 L441.50 365.50 L442.20 365.50 L442.90 365.50 L443.60 365.50 L444.30 365.50 L445.00 365.50 L445.70 365.50 L446.40 365.50 L447.10 365.50 L447.80 365.50 L448.50 365.50 L449.20 365.50 L449.90 365.50 L450.60 365.50 L451.30 365.50 L452.00 365.50 L452.70 365.50 L453.40 365.50 L454.10 365.50 L454.80 365.50 L455.50 365.50 L456.20 365.50 L456.90 365.50 L457.60 365.50 L458.30 365.50 L459.00 365.50" fill="none" stroke="#a00a30" stroke-width="1.6" stroke-linejoin="round"/>
<path d="M303.60 403.20 L304.30 403.20 L305.00 403.20 L305.70 403.20 L306.40 403.20 L307.10 403.20 L307.80 403.20 L308.50 403.20 L309.20 403.20 L309.90 403.20 L310.60 403.20 L311.30 403.20 L312.00 403.20 L312.70 403.20 L313.40 403.20 L314.10 403.20 L314.80 403.20 L315.50 403.20 L316.20 403.20 L316.90 403.20 L317.60 403.20 L318.30 403.20 L319.00 403.20 L319.70 403.20 L320.40 403.20 L321.10 403.20 L321.80 403.20 L322.50 403.20 L323.20 403.20 L323.90 403.20 L324.60 403.20 L325.30 403.20 L326.00 403.20 L326.70 403.20 L327.40 403.20 L328.10 403.20 L328.80 403.20 L329.50 403.20 L330.20 403.20 L330.90 403.20 L331.60 403.20 L332.30 403.20 L333.00 403.20 L333.70 403.20 L334.40 403.20 L335.10 403.20 L335.80 403.20 L336.50 403.20 L337.20 403.20 L337.90 403.20 L338.60 403.20 L339.30 403.20 L340.00 403.20 L340.70 403.20 L341.40 403.20 L342.10 403.20 L342.80 403.20 L343.50 403.20 L344.20 403.20 L344.90 403.20 L345.60 403.20 L346.30 403.20 L347.00 403.20 L347.70 403.20 L348.40 403.20 L349.10 403.20 L349.80 403.20 L350.50 403.20 L351.20 403.20 L351.90 403.20 L352.60 403.20 L353.30 403.20 L354.00 403.20 L354.70 403.20 L355.40 403.20 L356.10 403.20 L356.80 403.20 L357.50 403.20 L358.20 403.20 L358.90 403.20 L359.60 403.20 L360.30 403.20 L361.00 403.20 L361.70 403.20 L362.40 403.20 L363.10 403.20 L363.80 403.20 L364.50 403.20 L365.20 403.20 L365.90 403.20 L366.60 403.20 L367.30 403.20 L368.00 403.20 L368.70 403.20 L369.40 403.20 L370.10 403.20 L370.80 403.20 L371.50 403.20 L372.20 403.20 L372.90 403.20 L373.60 403.20 L374.30 403.20 L375.00 403.20 L375.70 403.20 L376.40 403.20 L377.10 403.20 L377.80 403.20 L378.50 403.20 L379.20 403.20 L379.90 403.20 L380.60 403.20 L381.30 403.20 L382.00 403.20 L382.70 403.20 L383.40 403.20 L384.10 403.20 L384.80 403.20 L385.50 403.20 L386.20 403.20 L386.90 403.20 L387.60 403.20 L388.30 403.20 L389.00 403.20 L389.70 403.20 L390.40 403.20 L391.10 403.20 L391.80 403.20 L392.50 403.20 L393.20 403.20 L393.90 403.20 L394.60 403.20 L395.30 403.20 L396.00 403.20 L396.70 403.20 L397.40 403.20 L398.10 403.20 L398.80 403.20 L399.50 403.20 L400.20 403.00 L400.90 402.61 L401.60 402.32 L402.30 401.61 L403.00 401.36 L403.70 400.39 L404.40 399.67 L405.10 398.54 L405.80 397.57 L406.50 395.07 L407.20 390.90 L407.90 388.45 L408.60 384.43 L409.30 383.06 L410.00 379.67 L410.70 372.54 L411.40 363.16 L412.10 356.21 L412.80 353.17 L413.50 348.56 L414.20 342.66 L414.90 336.43 L415.60 335.38 L416.30 334.06 L417.00 335.35 L417.70 338.67 L418.40 342.58 L419.10 353.98 L419.80 362.29 L420.50 368.36 L421.20 378.02 L421.90 381.38 L422.60 388.04 L423.30 393.27 L424.00 395.03 L424.70 397.58 L425.40 400.32 L426.10 401.83 L426.80 401.90 L427.50 402.88 L428.20 403.20 L428.90 403.20 L429.60 403.20 L430.30 403.20 L431.00 403.20 L431.70 403.20 L432.40 403.20 L433.10 403.20 L433.80 403.20 L434.50 403.20 L435.20 403.20 L435.90 403.20 L436.60 403.20 L437.30 403.20 L438.00 403.20 L438.70 403.20 L439.40 403.20 L440.10 403.20 L440.80 403.20 L441.50 403.20 L442.20 403.20 L442.90 403.20 L443.60 403.20 L444.30 403.20 L445.00 403.20 L445.70 403.20 L446.40 403.20 L447.10 403.20 L447.80 403.20 L448.50 403.20 L449.20 403.20 L449.90 403.20 L450.60 403.20 L451.30 403.20 L452.00 403.20 L452.70 403.20 L453.40 403.20 L454.10 403.20 L454.80 403.20 L455.50 403.20 L456.20 403.20 L456.90 403.20 L457.60 403.20 L458.30 403.20 L459.00 403.20 L459.00 403.2 L303.60 403.2 Z" fill="#8f98c2" fill-opacity="0.5" stroke="none"/>
<path d="M303.60 403.20 L304.30 403.20 L305.00 403.20 L305.70 403.20 L306.40 403.20 L307.10 403.20 L307.80 403.20 L308.50 403.20 L309.20 403.20 L309.90 403.20 L310.60 403.20 L311.30 403.20 L312.00 403.20 L312.70 403.20 L313.40 403.20 L314.10 403.20 L314.80 403.20 L315.50 403.20 L316.20 403.20 L316.90 403.20 L317.60 403.20 L318.30 403.20 L319.00 403.20 L319.70 403.20 L320.40 403.20 L321.10 403.20 L321.80 403.20 L322.50 403.20 L323.20 403.20 L323.90 403.20 L324.60 403.20 L325.30 403.20 L326.00 403.20 L326.70 403.20 L327.40 403.20 L328.10 403.20 L328.80 403.20 L329.50 403.20 L330.20 403.20 L330.90 403.20 L331.60 403.20 L332.30 403.20 L333.00 403.20 L333.70 403.20 L334.40 403.20 L335.10 403.20 L335.80 403.20 L336.50 403.20 L337.20 403.20 L337.90 403.20 L338.60 403.20 L339.30 403.20 L340.00 403.20 L340.70 403.20 L341.40 403.20 L342.10 403.20 L342.80 403.20 L343.50 403.20 L344.20 403.20 L344.90 403.20 L345.60 403.20 L346.30 403.20 L347.00 403.20 L347.70 403.20 L348.40 403.20 L349.10 403.20 L349.80 403.20 L350.50 403.20 L351.20 403.20 L351.90 403.20 L352.60 403.20 L353.30 403.20 L354.00 403.20 L354.70 403.20 L355.40 403.20 L356.10 403.20 L356.80 403.20 L357.50 403.20 L358.20 403.20 L358.90 403.20 L359.60 403.20 L360.30 403.20 L361.00 403.20 L361.70 403.20 L362.40 403.20 L363.10 403.20 L363.80 403.20 L364.50 403.20 L365.20 403.20 L365.90 403.20 L366.60 403.20 L367.30 403.20 L368.00 403.20 L368.70 403.20 L369.40 403.20 L370.10 403.20 L370.80 403.20 L371.50 403.20 L372.20 403.20 L372.90 403.20 L373.60 403.20 L374.30 403.20 L375.00 403.20 L375.70 403.20 L376.40 403.20 L377.10 403.20 L377.80 403.20 L378.50 403.20 L379.20 403.20 L379.90 403.20 L380.60 403.20 L381.30 403.20 L382.00 403.20 L382.70 403.20 L383.40 403.20 L384.10 403.20 L384.80 403.20 L385.50 403.20 L386.20 403.20 L386.90 403.20 L387.60 403.20 L388.30 403.20 L389.00 403.20 L389.70 403.20 L390.40 403.20 L391.10 403.20 L391.80 403.20 L392.50 403.20 L393.20 403.20 L393.90 403.20 L394.60 403.20 L395.30 403.20 L396.00 403.20 L396.70 403.20 L397.40 403.20 L398.10 403.20 L398.80 403.20 L399.50 403.20 L400.20 403.00 L400.90 402.61 L401.60 402.32 L402.30 401.61 L403.00 401.36 L403.70 400.39 L404.40 399.67 L405.10 398.54 L405.80 397.57 L406.50 395.07 L407.20 390.90 L407.90 388.45 L408.60 384.43 L409.30 383.06 L410.00 379.67 L410.70 372.54 L411.40 363.16 L412.10 356.21 L412.80 353.17 L413.50 348.56 L414.20 342.66 L414.90 336.43 L415.60 335.38 L416.30 334.06 L417.00 335.35 L417.70 338.67 L418.40 342.58 L419.10 353.98 L419.80 362.29 L420.50 368.36 L421.20 378.02 L421.90 381.38 L422.60 388.04 L423.30 393.27 L424.00 395.03 L424.70 397.58 L425.40 400.32 L426.10 401.83 L426.80 401.90 L427.50 402.88 L428.20 403.20 L428.90 403.20 L429.60 403.20 L430.30 403.20 L431.00 403.20 L431.70 403.20 L432.40 403.20 L433.10 403.20 L433.80 403.20 L434.50 403.20 L435.20 403.20 L435.90 403.20 L436.60 403.20 L437.30 403.20 L438.00 403.20 L438.70 403.20 L439.40 403.20 L440.10 403.20 L440.80 403.20 L441.50 403.20 L442.20 403.20 L442.90 403.20 L443.60 403.20 L444.30 403.20 L445.00 403.20 L445.70 403.20 L446.40 403.20 L447.10 403.20 L447.80 403.20 L448.50 403.20 L449.20 403.20 L449.90 403.20 L450.60 403.20 L451.30 403.20 L452.00 403.20 L452.70 403.20 L453.40 403.20 L454.10 403.20 L454.80 403.20 L455.50 403.20 L456.20 403.20 L456.90 403.20 L457.60 403.20 L458.30 403.20 L459.00 403.20" fill="none" stroke="#223f80" stroke-width="1.45" stroke-linejoin="round"/>
<path d="M364.00 440.90 L364.70 440.56 L365.40 440.10 L366.10 438.57 L366.80 434.35 L367.50 429.87 L368.20 425.62 L368.90 423.08 L369.60 418.02 L370.30 411.98 L371.00 405.66 L371.70 400.85 L372.40 396.55 L373.10 389.58 L373.80 382.92 L374.50 379.93 L375.20 374.06 L375.90 371.21 L376.60 375.53 L377.30 378.83 L378.00 383.96 L378.70 391.45 L379.40 400.12 L380.10 405.89 L380.80 412.10 L381.50 421.17 L382.20 425.12 L382.90 429.73 L383.60 434.76 L384.30 438.87 L385.00 440.16 L385.70 440.76 L385.70 440.9 L364.00 440.9 Z" fill="#ebebef" fill-opacity="0.75" stroke="none"/>
<path d="M364.00 440.90 L364.70 440.56 L365.40 440.10 L366.10 438.57 L366.80 434.35 L367.50 429.87 L368.20 425.62 L368.90 423.08 L369.60 418.02 L370.30 411.98 L371.00 405.66 L371.70 400.85 L372.40 396.55 L373.10 389.58 L373.80 382.92 L374.50 379.93 L375.20 374.06 L375.90 371.21 L376.60 375.53 L377.30 378.83 L378.00 383.96 L378.70 391.45 L379.40 400.12 L380.10 405.89 L380.80 412.10 L381.50 421.17 L382.20 425.12 L382.90 429.73 L383.60 434.76 L384.30 438.87 L385.00 440.16 L385.70 440.76" fill="none" stroke="#9c9cae" stroke-width="1.6" stroke-linejoin="round"/>
<path d="M303.6 288.8 H459.6 V440.9 H303.6 Z" fill="none" stroke="#161616" stroke-width="1.8"/>
<line x1="299.30" y1="440.90" x2="303.60" y2="440.90" stroke="#161616" stroke-width="1.4"/>
<text x="295.2" y="444.5" font-size="10.2" text-anchor="end" textLength="6.24" lengthAdjust="spacingAndGlyphs" fill="#161616" stroke="#161616" stroke-width="0.18">0</text>
<line x1="301.00" y1="435.36" x2="303.60" y2="435.36" stroke="#161616" stroke-width="1.0"/>
<line x1="301.00" y1="429.83" x2="303.60" y2="429.83" stroke="#161616" stroke-width="1.0"/>
<line x1="301.00" y1="424.29" x2="303.60" y2="424.29" stroke="#161616" stroke-width="1.0"/>
<line x1="301.00" y1="418.76" x2="303.60" y2="418.76" stroke="#161616" stroke-width="1.0"/>
<line x1="299.30" y1="413.22" x2="303.60" y2="413.22" stroke="#161616" stroke-width="1.4"/>
<text x="295.2" y="416.82" font-size="10.2" text-anchor="end" textLength="12.48" lengthAdjust="spacingAndGlyphs" fill="#161616" stroke="#161616" stroke-width="0.18">20</text>
<line x1="301.00" y1="407.68" x2="303.60" y2="407.68" stroke="#161616" stroke-width="1.0"/>
<line x1="301.00" y1="402.15" x2="303.60" y2="402.15" stroke="#161616" stroke-width="1.0"/>
<line x1="301.00" y1="396.61" x2="303.60" y2="396.61" stroke="#161616" stroke-width="1.0"/>
<line x1="301.00" y1="391.08" x2="303.60" y2="391.08" stroke="#161616" stroke-width="1.0"/>
<line x1="299.30" y1="385.54" x2="303.60" y2="385.54" stroke="#161616" stroke-width="1.4"/>
<text x="295.2" y="389.14" font-size="10.2" text-anchor="end" textLength="12.48" lengthAdjust="spacingAndGlyphs" fill="#161616" stroke="#161616" stroke-width="0.18">40</text>
<line x1="301.00" y1="380.00" x2="303.60" y2="380.00" stroke="#161616" stroke-width="1.0"/>
<line x1="301.00" y1="374.47" x2="303.60" y2="374.47" stroke="#161616" stroke-width="1.0"/>
<line x1="301.00" y1="368.93" x2="303.60" y2="368.93" stroke="#161616" stroke-width="1.0"/>
<line x1="301.00" y1="363.40" x2="303.60" y2="363.40" stroke="#161616" stroke-width="1.0"/>
<line x1="299.30" y1="357.86" x2="303.60" y2="357.86" stroke="#161616" stroke-width="1.4"/>
<text x="295.2" y="361.46000000000004" font-size="10.2" text-anchor="end" textLength="12.48" lengthAdjust="spacingAndGlyphs" fill="#161616" stroke="#161616" stroke-width="0.18">60</text>
<line x1="301.00" y1="352.32" x2="303.60" y2="352.32" stroke="#161616" stroke-width="1.0"/>
<line x1="301.00" y1="346.79" x2="303.60" y2="346.79" stroke="#161616" stroke-width="1.0"/>
<line x1="301.00" y1="341.25" x2="303.60" y2="341.25" stroke="#161616" stroke-width="1.0"/>
<line x1="301.00" y1="335.72" x2="303.60" y2="335.72" stroke="#161616" stroke-width="1.0"/>
<line x1="299.30" y1="330.18" x2="303.60" y2="330.18" stroke="#161616" stroke-width="1.4"/>
<text x="295.2" y="333.78" font-size="10.2" text-anchor="end" textLength="12.48" lengthAdjust="spacingAndGlyphs" fill="#161616" stroke="#161616" stroke-width="0.18">80</text>
<line x1="301.00" y1="324.64" x2="303.60" y2="324.64" stroke="#161616" stroke-width="1.0"/>
<line x1="301.00" y1="319.11" x2="303.60" y2="319.11" stroke="#161616" stroke-width="1.0"/>
<line x1="301.00" y1="313.57" x2="303.60" y2="313.57" stroke="#161616" stroke-width="1.0"/>
<line x1="301.00" y1="308.04" x2="303.60" y2="308.04" stroke="#161616" stroke-width="1.0"/>
<line x1="299.30" y1="302.50" x2="303.60" y2="302.50" stroke="#161616" stroke-width="1.4"/>
<text x="295.2" y="306.1" font-size="10.2" text-anchor="end" textLength="18.72" lengthAdjust="spacingAndGlyphs" fill="#161616" stroke="#161616" stroke-width="0.18">100</text>
<line x1="301.00" y1="296.96" x2="303.60" y2="296.96" stroke="#161616" stroke-width="1.0"/>
<line x1="301.00" y1="291.43" x2="303.60" y2="291.43" stroke="#161616" stroke-width="1.0"/>
<line x1="303.60" y1="440.90" x2="303.60" y2="445.50" stroke="#161616" stroke-width="1.4"/>
<line x1="311.84" y1="440.90" x2="311.84" y2="443.20" stroke="#161616" stroke-width="0.9"/>
<line x1="316.66" y1="440.90" x2="316.66" y2="443.20" stroke="#161616" stroke-width="0.9"/>
<line x1="320.08" y1="440.90" x2="320.08" y2="443.20" stroke="#161616" stroke-width="0.9"/>
<line x1="322.73" y1="440.90" x2="322.73" y2="443.20" stroke="#161616" stroke-width="0.9"/>
<line x1="324.90" y1="440.90" x2="324.90" y2="443.20" stroke="#161616" stroke-width="0.9"/>
<line x1="326.73" y1="440.90" x2="326.73" y2="443.20" stroke="#161616" stroke-width="0.9"/>
<line x1="328.32" y1="440.90" x2="328.32" y2="443.20" stroke="#161616" stroke-width="0.9"/>
<line x1="329.72" y1="440.90" x2="329.72" y2="443.20" stroke="#161616" stroke-width="0.9"/>
<line x1="330.97" y1="440.90" x2="330.97" y2="445.50" stroke="#161616" stroke-width="1.4"/>
<line x1="339.21" y1="440.90" x2="339.21" y2="443.20" stroke="#161616" stroke-width="0.9"/>
<line x1="344.03" y1="440.90" x2="344.03" y2="443.20" stroke="#161616" stroke-width="0.9"/>
<line x1="347.45" y1="440.90" x2="347.45" y2="443.20" stroke="#161616" stroke-width="0.9"/>
<line x1="350.10" y1="440.90" x2="350.10" y2="443.20" stroke="#161616" stroke-width="0.9"/>
<line x1="352.27" y1="440.90" x2="352.27" y2="443.20" stroke="#161616" stroke-width="0.9"/>
<line x1="354.10" y1="440.90" x2="354.10" y2="443.20" stroke="#161616" stroke-width="0.9"/>
<line x1="355.68" y1="440.90" x2="355.68" y2="443.20" stroke="#161616" stroke-width="0.9"/>
<line x1="357.08" y1="440.90" x2="357.08" y2="443.20" stroke="#161616" stroke-width="0.9"/>
<line x1="358.34" y1="440.90" x2="358.34" y2="445.50" stroke="#161616" stroke-width="1.4"/>
<line x1="366.58" y1="440.90" x2="366.58" y2="443.20" stroke="#161616" stroke-width="0.9"/>
<line x1="371.39" y1="440.90" x2="371.39" y2="443.20" stroke="#161616" stroke-width="0.9"/>
<line x1="374.81" y1="440.90" x2="374.81" y2="443.20" stroke="#161616" stroke-width="0.9"/>
<line x1="377.47" y1="440.90" x2="377.47" y2="443.20" stroke="#161616" stroke-width="0.9"/>
<line x1="379.63" y1="440.90" x2="379.63" y2="443.20" stroke="#161616" stroke-width="0.9"/>
<line x1="381.47" y1="440.90" x2="381.47" y2="443.20" stroke="#161616" stroke-width="0.9"/>
<line x1="383.05" y1="440.90" x2="383.05" y2="443.20" stroke="#161616" stroke-width="0.9"/>
<line x1="384.45" y1="440.90" x2="384.45" y2="443.20" stroke="#161616" stroke-width="0.9"/>
<line x1="385.71" y1="440.90" x2="385.71" y2="445.50" stroke="#161616" stroke-width="1.4"/>
<line x1="393.94" y1="440.90" x2="393.94" y2="443.20" stroke="#161616" stroke-width="0.9"/>
<line x1="398.76" y1="440.90" x2="398.76" y2="443.20" stroke="#161616" stroke-width="0.9"/>
<line x1="402.18" y1="440.90" x2="402.18" y2="443.20" stroke="#161616" stroke-width="0.9"/>
<line x1="404.83" y1="440.90" x2="404.83" y2="443.20" stroke="#161616" stroke-width="0.9"/>
<line x1="407.00" y1="440.90" x2="407.00" y2="443.20" stroke="#161616" stroke-width="0.9"/>
<line x1="408.83" y1="440.90" x2="408.83" y2="443.20" stroke="#161616" stroke-width="0.9"/>
<line x1="410.42" y1="440.90" x2="410.42" y2="443.20" stroke="#161616" stroke-width="0.9"/>
<line x1="411.82" y1="440.90" x2="411.82" y2="443.20" stroke="#161616" stroke-width="0.9"/>
<line x1="413.07" y1="440.90" x2="413.07" y2="445.50" stroke="#161616" stroke-width="1.4"/>
<line x1="421.31" y1="440.90" x2="421.31" y2="443.20" stroke="#161616" stroke-width="0.9"/>
<line x1="426.13" y1="440.90" x2="426.13" y2="443.20" stroke="#161616" stroke-width="0.9"/>
<line x1="429.55" y1="440.90" x2="429.55" y2="443.20" stroke="#161616" stroke-width="0.9"/>
<line x1="432.20" y1="440.90" x2="432.20" y2="443.20" stroke="#161616" stroke-width="0.9"/>
<line x1="434.37" y1="440.90" x2="434.37" y2="443.20" stroke="#161616" stroke-width="0.9"/>
<line x1="436.20" y1="440.90" x2="436.20" y2="443.20" stroke="#161616" stroke-width="0.9"/>
<line x1="437.79" y1="440.90" x2="437.79" y2="443.20" stroke="#161616" stroke-width="0.9"/>
<line x1="439.19" y1="440.90" x2="439.19" y2="443.20" stroke="#161616" stroke-width="0.9"/>
<line x1="440.44" y1="440.90" x2="440.44" y2="445.50" stroke="#161616" stroke-width="1.4"/>
<line x1="448.68" y1="440.90" x2="448.68" y2="443.20" stroke="#161616" stroke-width="0.9"/>
<line x1="453.50" y1="440.90" x2="453.50" y2="443.20" stroke="#161616" stroke-width="0.9"/>
<line x1="456.92" y1="440.90" x2="456.92" y2="443.20" stroke="#161616" stroke-width="0.9"/>
<line x1="459.60" y1="440.90" x2="459.60" y2="445.50" stroke="#161616" stroke-width="1.4"/>
<text x="296.3" y="458.8" font-size="10.8" textLength="11.3" lengthAdjust="spacingAndGlyphs" fill="#161616" stroke="#161616" stroke-width="0.18">10</text>
<text x="308.1" y="454.6" font-size="6.6" fill="#161616" stroke="#161616" stroke-width="0.1">1</text>
<text x="323.6684210526316" y="458.8" font-size="10.8" textLength="11.3" lengthAdjust="spacingAndGlyphs" fill="#161616" stroke="#161616" stroke-width="0.18">10</text>
<text x="335.4684210526316" y="454.6" font-size="6.6" fill="#161616" stroke="#161616" stroke-width="0.1">2</text>
<text x="351.0368421052632" y="458.8" font-size="10.8" textLength="11.3" lengthAdjust="spacingAndGlyphs" fill="#161616" stroke="#161616" stroke-width="0.18">10</text>
<text x="362.8368421052632" y="454.6" font-size="6.6" fill="#161616" stroke="#161616" stroke-width="0.1">3</text>
<text x="378.40526315789475" y="458.8" font-size="10.8" textLength="11.3" lengthAdjust="spacingAndGlyphs" fill="#161616" stroke="#161616" stroke-width="0.18">10</text>
<text x="390.20526315789476" y="454.6" font-size="6.6" fill="#161616" stroke="#161616" stroke-width="0.1">4</text>
<text x="405.7736842105263" y="458.8" font-size="10.8" textLength="11.3" lengthAdjust="spacingAndGlyphs" fill="#161616" stroke="#161616" stroke-width="0.18">10</text>
<text x="417.5736842105263" y="454.6" font-size="6.6" fill="#161616" stroke="#161616" stroke-width="0.1">5</text>
<text x="449.1" y="458.8" font-size="10.8" textLength="11.3" lengthAdjust="spacingAndGlyphs" fill="#161616" stroke="#161616" stroke-width="0.18">10</text>
<text x="460.8" y="454.6" font-size="6.6" fill="#161616" stroke="#161616" stroke-width="0.1">6.7</text>
<text x="315.2" y="356.8" font-size="9.8" textLength="42.7" lengthAdjust="spacingAndGlyphs" fill="#161616" stroke="#161616" stroke-width="0.05">Aza/Pano</text>
<text x="314.8" y="397.9" font-size="9.8" textLength="43.1" lengthAdjust="spacingAndGlyphs" fill="#161616" stroke="#161616" stroke-width="0.05">Untreated</text>
<text x="316.7" y="433.5" font-size="9.8" textLength="31.2" lengthAdjust="spacingAndGlyphs" fill="#161616" stroke="#161616" stroke-width="0.05">Isotype</text>
<text transform="translate(267.9,365.2) rotate(-90)" x="0" y="0" font-size="13.4" text-anchor="middle" textLength="41.7" lengthAdjust="spacingAndGlyphs" fill="#161616" stroke="#161616" stroke-width="0.28">Count (%)</text>
<text x="381.6" y="476.6" font-size="13.2" text-anchor="middle" textLength="27.3" lengthAdjust="spacingAndGlyphs" fill="#161616" stroke="#161616" stroke-width="0.32">FITC-H</text>
<text x="10.6" y="501.6" font-size="16.0" textLength="9.8" lengthAdjust="spacingAndGlyphs" font-weight="bold" fill="#161616" stroke="#161616" stroke-width="0.45">E</text>
<text x="163.6" y="499.5" font-size="13" text-anchor="middle" textLength="36.3" lengthAdjust="spacingAndGlyphs" fill="#161616" stroke="#161616" stroke-width="0.18">Nalm6</text>
<text x="164" y="515" font-size="13" text-anchor="middle" textLength="59.5" lengthAdjust="spacingAndGlyphs" fill="#161616" stroke="#161616" stroke-width="0.18">Exocytosis</text>
<line x1="69.40" y1="518.70" x2="69.40" y2="653.60" stroke="#161616" stroke-width="1.8"/>
<line x1="68.50" y1="652.60" x2="257.20" y2="652.60" stroke="#161616" stroke-width="1.8"/>
<line x1="65.60" y1="652.60" x2="69.40" y2="652.60" stroke="#161616" stroke-width="1.4"/>
<text x="61.0" y="656.1" font-size="10.0" text-anchor="end" textLength="6.4" lengthAdjust="spacingAndGlyphs" fill="#161616" stroke="#161616" stroke-width="0.18">0</text>
<line x1="65.60" y1="634.07" x2="69.40" y2="634.07" stroke="#161616" stroke-width="1.4"/>
<text x="61.0" y="637.5714285714286" font-size="10.0" text-anchor="end" textLength="25.58" lengthAdjust="spacingAndGlyphs" fill="#161616" stroke="#161616" stroke-width="0.18">4000</text>
<line x1="65.60" y1="615.54" x2="69.40" y2="615.54" stroke="#161616" stroke-width="1.4"/>
<text x="61.0" y="619.0428571428572" font-size="10.0" text-anchor="end" textLength="25.58" lengthAdjust="spacingAndGlyphs" fill="#161616" stroke="#161616" stroke-width="0.18">8000</text>
<line x1="65.60" y1="597.01" x2="69.40" y2="597.01" stroke="#161616" stroke-width="1.4"/>
<text x="61.0" y="600.5142857142857" font-size="10.0" text-anchor="end" textLength="31.98" lengthAdjust="spacingAndGlyphs" fill="#161616" stroke="#161616" stroke-width="0.18">12000</text>
<line x1="65.60" y1="578.49" x2="69.40" y2="578.49" stroke="#161616" stroke-width="1.4"/>
<text x="61.0" y="581.9857142857143" font-size="10.0" text-anchor="end" textLength="31.98" lengthAdjust="spacingAndGlyphs" fill="#161616" stroke="#161616" stroke-width="0.18">16000</text>
<line x1="65.60" y1="559.96" x2="69.40" y2="559.96" stroke="#161616" stroke-width="1.4"/>
<text x="61.0" y="563.4571428571429" font-size="10.0" text-anchor="end" textLength="31.98" lengthAdjust="spacingAndGlyphs" fill="#161616" stroke="#161616" stroke-width="0.18">20000</text>
<line x1="65.60" y1="541.43" x2="69.40" y2="541.43" stroke="#161616" stroke-width="1.4"/>
<text x="61.0" y="544.9285714285714" font-size="10.0" text-anchor="end" textLength="31.98" lengthAdjust="spacingAndGlyphs" fill="#161616" stroke="#161616" stroke-width="0.18">24000</text>
<line x1="65.60" y1="522.90" x2="69.40" y2="522.90" stroke="#161616" stroke-width="1.4"/>
<text x="61.0" y="526.4000000000001" font-size="10.0" text-anchor="end" textLength="31.98" lengthAdjust="spacingAndGlyphs" fill="#161616" stroke="#161616" stroke-width="0.18">28000</text>
<line x1="69.40" y1="652.60" x2="69.40" y2="657.40" stroke="#161616" stroke-width="1.4"/>
<text x="69.4" y="670.9" font-size="10.8" text-anchor="middle" fill="#161616" stroke="#161616" stroke-width="0.18">0</text>
<line x1="92.40" y1="652.60" x2="92.40" y2="657.40" stroke="#161616" stroke-width="1.4"/>
<text x="92.4" y="670.9" font-size="10.8" text-anchor="middle" fill="#161616" stroke="#161616" stroke-width="0.18">30</text>
<line x1="115.40" y1="652.60" x2="115.40" y2="657.40" stroke="#161616" stroke-width="1.4"/>
<text x="115.4" y="670.9" font-size="10.8" text-anchor="middle" fill="#161616" stroke="#161616" stroke-width="0.18">60</text>
<line x1="138.40" y1="652.60" x2="138.40" y2="657.40" stroke="#161616" stroke-width="1.4"/>
<text x="138.4" y="670.9" font-size="10.8" text-anchor="middle" fill="#161616" stroke="#161616" stroke-width="0.18">90</text>
<line x1="161.40" y1="652.60" x2="161.40" y2="657.40" stroke="#161616" stroke-width="1.4"/>
<text x="161.4" y="670.9" font-size="10.8" text-anchor="middle" fill="#161616" stroke="#161616" stroke-width="0.18">120</text>
<line x1="184.40" y1="652.60" x2="184.40" y2="657.40" stroke="#161616" stroke-width="1.4"/>
<text x="184.40000000000003" y="670.9" font-size="10.8" text-anchor="middle" fill="#161616" stroke="#161616" stroke-width="0.18">150</text>
<line x1="207.40" y1="652.60" x2="207.40" y2="657.40" stroke="#161616" stroke-width="1.4"/>
<text x="207.4" y="670.9" font-size="10.8" text-anchor="middle" fill="#161616" stroke="#161616" stroke-width="0.18">180</text>
<line x1="230.40" y1="652.60" x2="230.40" y2="657.40" stroke="#161616" stroke-width="1.4"/>
<text x="230.4" y="670.9" font-size="10.8" text-anchor="middle" fill="#161616" stroke="#161616" stroke-width="0.18">210</text>
<line x1="253.40" y1="652.60" x2="253.40" y2="657.40" stroke="#161616" stroke-width="1.4"/>
<text x="253.4" y="670.9" font-size="10.8" text-anchor="middle" fill="#161616" stroke="#161616" stroke-width="0.18">240</text>
<text x="163.5" y="689.6" font-size="13.2" text-anchor="middle" textLength="31.6" lengthAdjust="spacingAndGlyphs" fill="#161616" stroke="#161616" stroke-width="0.32">Minutes</text>
<text transform="translate(20.9,585.9) rotate(-90)" x="0" y="0" font-size="13" text-anchor="middle" textLength="35.7" lengthAdjust="spacingAndGlyphs" fill="#161616" stroke="#161616" stroke-width="0.28">APC MFI</text>
<line x1="69.40" y1="641.10" x2="253.20" y2="523.20" stroke="#2c4a7e" stroke-width="2.2"/>
<line x1="69.40" y1="642.80" x2="252.50" y2="575.90" stroke="#a0002a" stroke-width="2.3" stroke-dasharray="5 3"/>
<line x1="161.40" y1="563.70" x2="161.40" y2="578.00" stroke="#161616" stroke-width="1.1"/>
<line x1="158.80" y1="563.70" x2="164.00" y2="563.70" stroke="#161616" stroke-width="1.1"/>
<line x1="158.80" y1="578.00" x2="164.00" y2="578.00" stroke="#161616" stroke-width="1.1"/>
<line x1="161.40" y1="593.70" x2="161.40" y2="607.50" stroke="#161616" stroke-width="1.1"/>
<line x1="158.80" y1="593.70" x2="164.00" y2="593.70" stroke="#161616" stroke-width="1.1"/>
<line x1="158.80" y1="607.50" x2="164.00" y2="607.50" stroke="#161616" stroke-width="1.1"/>
<line x1="253.40" y1="525.70" x2="253.40" y2="535.00" stroke="#161616" stroke-width="1.1"/>
<line x1="250.80" y1="525.70" x2="256.00" y2="525.70" stroke="#161616" stroke-width="1.1"/>
<line x1="250.80" y1="535.00" x2="256.00" y2="535.00" stroke="#161616" stroke-width="1.1"/>
<line x1="80.90" y1="633.80" x2="80.90" y2="639.00" stroke="#161616" stroke-width="1.1"/>
<line x1="78.30" y1="633.80" x2="83.50" y2="633.80" stroke="#161616" stroke-width="1.1"/>
<line x1="78.30" y1="639.00" x2="83.50" y2="639.00" stroke="#161616" stroke-width="1.1"/>
<circle cx="80.90" cy="636.39" r="3" fill="#2c4a7e"/>
<circle cx="92.40" cy="621.10" r="3" fill="#2c4a7e"/>
<circle cx="115.40" cy="600.72" r="3" fill="#2c4a7e"/>
<circle cx="161.40" cy="571.54" r="3" fill="#2c4a7e"/>
<circle cx="253.40" cy="529.85" r="3" fill="#2c4a7e"/>
<rect x="78.15" y="639.20" width="5.5" height="5.5" fill="#a0002a"/>
<rect x="89.65" y="625.30" width="5.5" height="5.5" fill="#a0002a"/>
<rect x="112.65" y="614.65" width="5.5" height="5.5" fill="#a0002a"/>
<rect x="158.65" y="597.51" width="5.5" height="5.5" fill="#a0002a"/>
<rect x="250.65" y="579.44" width="5.5" height="5.5" fill="#a0002a"/>
<circle cx="69.4" cy="652.6" r="3" fill="#a0002a"/>
<line x1="189.20" y1="621.50" x2="204.00" y2="621.50" stroke="#2c4a7e" stroke-width="1.9"/>
<circle cx="196.6" cy="621.5" r="3" fill="#2c4a7e"/>
<text x="207.9" y="625.4" font-size="10.8" textLength="33.2" lengthAdjust="spacingAndGlyphs" fill="#161616" stroke="#161616" stroke-width="0.18">Control</text>
<line x1="189.20" y1="638.00" x2="192.00" y2="638.00" stroke="#a0002a" stroke-width="2.0"/>
<line x1="201.20" y1="638.00" x2="204.00" y2="638.00" stroke="#a0002a" stroke-width="2.0"/>
<rect x="193.7" y="635.3" width="5.4" height="5.4" fill="#a0002a"/>
<text x="207.9" y="641.0" font-size="10.8" textLength="42.8" lengthAdjust="spacingAndGlyphs" fill="#161616" stroke="#161616" stroke-width="0.18">Aza/Pano</text>
<text x="276.5" y="501.6" font-size="16.0" textLength="9.9" lengthAdjust="spacingAndGlyphs" font-weight="bold" fill="#161616" stroke="#161616" stroke-width="0.45">F</text>
<text x="414.25" y="505.4" font-size="13" text-anchor="middle" textLength="35.5" lengthAdjust="spacingAndGlyphs" fill="#161616" stroke="#161616" stroke-width="0.18">Nalm6</text>
<text x="414.25" y="522" font-size="13" text-anchor="middle" textLength="67.9" lengthAdjust="spacingAndGlyphs" fill="#161616" stroke="#161616" stroke-width="0.18">Endocytosis</text>
<line x1="322.80" y1="522.00" x2="322.80" y2="653.80" stroke="#161616" stroke-width="1.8"/>
<line x1="321.90" y1="652.80" x2="505.20" y2="652.80" stroke="#161616" stroke-width="1.8"/>
<line x1="319.20" y1="652.80" x2="322.80" y2="652.80" stroke="#161616" stroke-width="1.4"/>
<text x="313.9" y="656.6999999999999" font-size="10.2" text-anchor="end" textLength="6.24" lengthAdjust="spacingAndGlyphs" fill="#161616" stroke="#161616" stroke-width="0.18">0</text>
<line x1="319.20" y1="640.10" x2="322.80" y2="640.10" stroke="#161616" stroke-width="1.4"/>
<text x="313.9" y="643.9999999999999" font-size="10.2" text-anchor="end" textLength="12.48" lengthAdjust="spacingAndGlyphs" fill="#161616" stroke="#161616" stroke-width="0.18">10</text>
<line x1="319.20" y1="627.40" x2="322.80" y2="627.40" stroke="#161616" stroke-width="1.4"/>
<text x="313.9" y="631.3" font-size="10.2" text-anchor="end" textLength="12.48" lengthAdjust="spacingAndGlyphs" fill="#161616" stroke="#161616" stroke-width="0.18">20</text>
<line x1="319.20" y1="614.70" x2="322.80" y2="614.70" stroke="#161616" stroke-width="1.4"/>
<text x="313.9" y="618.5999999999999" font-size="10.2" text-anchor="end" textLength="12.48" lengthAdjust="spacingAndGlyphs" fill="#161616" stroke="#161616" stroke-width="0.18">30</text>
<line x1="319.20" y1="602.00" x2="322.80" y2="602.00" stroke="#161616" stroke-width="1.4"/>
<text x="313.9" y="605.9" font-size="10.2" text-anchor="end" textLength="12.48" lengthAdjust="spacingAndGlyphs" fill="#161616" stroke="#161616" stroke-width="0.18">40</text>
<line x1="319.20" y1="589.30" x2="322.80" y2="589.30" stroke="#161616" stroke-width="1.4"/>
<text x="313.9" y="593.1999999999999" font-size="10.2" text-anchor="end" textLength="12.48" lengthAdjust="spacingAndGlyphs" fill="#161616" stroke="#161616" stroke-width="0.18">50</text>
<line x1="319.20" y1="576.60" x2="322.80" y2="576.60" stroke="#161616" stroke-width="1.4"/>
<text x="313.9" y="580.4999999999999" font-size="10.2" text-anchor="end" textLength="12.48" lengthAdjust="spacingAndGlyphs" fill="#161616" stroke="#161616" stroke-width="0.18">60</text>
<line x1="319.20" y1="563.90" x2="322.80" y2="563.90" stroke="#161616" stroke-width="1.4"/>
<text x="313.9" y="567.8" font-size="10.2" text-anchor="end" textLength="12.48" lengthAdjust="spacingAndGlyphs" fill="#161616" stroke="#161616" stroke-width="0.18">70</text>
<line x1="319.20" y1="551.20" x2="322.80" y2="551.20" stroke="#161616" stroke-width="1.4"/>
<text x="313.9" y="555.0999999999999" font-size="10.2" text-anchor="end" textLength="12.48" lengthAdjust="spacingAndGlyphs" fill="#161616" stroke="#161616" stroke-width="0.18">80</text>
<line x1="319.20" y1="538.50" x2="322.80" y2="538.50" stroke="#161616" stroke-width="1.4"/>
<text x="313.9" y="542.4" font-size="10.2" text-anchor="end" textLength="12.48" lengthAdjust="spacingAndGlyphs" fill="#161616" stroke="#161616" stroke-width="0.18">90</text>
<line x1="319.20" y1="525.80" x2="322.80" y2="525.80" stroke="#161616" stroke-width="1.4"/>
<text x="313.9" y="529.6999999999999" font-size="10.2" text-anchor="end" textLength="18.72" lengthAdjust="spacingAndGlyphs" fill="#161616" stroke="#161616" stroke-width="0.18">100</text>
<line x1="322.80" y1="652.80" x2="322.80" y2="657.40" stroke="#161616" stroke-width="1.4"/>
<text x="322.8" y="670.8" font-size="10.8" text-anchor="middle" fill="#161616" stroke="#161616" stroke-width="0.18">0</text>
<line x1="367.45" y1="652.80" x2="367.45" y2="657.40" stroke="#161616" stroke-width="1.4"/>
<text x="367.45" y="670.8" font-size="10.8" text-anchor="middle" fill="#161616" stroke="#161616" stroke-width="0.18">30</text>
<line x1="412.10" y1="652.80" x2="412.10" y2="657.40" stroke="#161616" stroke-width="1.4"/>
<text x="412.1" y="670.8" font-size="10.8" text-anchor="middle" fill="#161616" stroke="#161616" stroke-width="0.18">60</text>
<line x1="456.75" y1="652.80" x2="456.75" y2="657.40" stroke="#161616" stroke-width="1.4"/>
<text x="456.75" y="670.8" font-size="10.8" text-anchor="middle" fill="#161616" stroke="#161616" stroke-width="0.18">90</text>
<line x1="501.40" y1="652.80" x2="501.40" y2="657.40" stroke="#161616" stroke-width="1.4"/>
<text x="501.4" y="670.8" font-size="10.8" text-anchor="middle" fill="#161616" stroke="#161616" stroke-width="0.18">120</text>
<text x="414.3" y="688.9" font-size="13.2" text-anchor="middle" textLength="32" lengthAdjust="spacingAndGlyphs" fill="#161616" stroke="#161616" stroke-width="0.32">Minutes</text>
<text transform="translate(287.5,587.3) rotate(-90)" x="0" y="0" font-size="14.0" text-anchor="middle" textLength="84.8" lengthAdjust="spacingAndGlyphs" fill="#161616" stroke="#161616" stroke-width="0.28">% CD81 internalized</text>
<path d="M322.80 652.80 L324.29 649.82 L325.78 646.98 L327.26 644.28 L328.75 641.71 L330.24 639.25 L331.73 636.90 L333.22 634.65 L334.71 632.50 L336.19 630.44 L337.68 628.46 L339.17 626.56 L340.66 624.74 L342.15 622.98 L343.64 621.29 L345.12 619.66 L346.61 618.10 L348.10 616.59 L349.59 615.13 L351.08 613.72 L352.57 612.36 L354.06 611.04 L355.54 609.77 L357.03 608.54 L358.52 607.35 L360.01 606.19 L361.50 605.07 L362.99 603.98 L364.47 602.93 L365.96 601.91 L367.45 600.92 L368.94 599.95 L370.43 599.01 L371.92 598.10 L373.40 597.22 L374.89 596.35 L376.38 595.51 L377.87 594.70 L379.36 593.90 L380.85 593.12 L382.33 592.37 L383.82 591.63 L385.31 590.91 L386.80 590.21 L388.29 589.52 L389.77 588.85 L391.26 588.20 L392.75 587.56 L394.24 586.94 L395.73 586.33 L397.22 585.74 L398.70 585.15 L400.19 584.59 L401.68 584.03 L403.17 583.48 L404.66 582.95 L406.15 582.43 L407.63 581.92 L409.12 581.42 L410.61 580.93 L412.10 580.44 L413.59 579.97 L415.08 579.51 L416.56 579.06 L418.05 578.62 L419.54 578.18 L421.03 577.75 L422.52 577.33 L424.01 576.92 L425.50 576.52 L426.98 576.12 L428.47 575.73 L429.96 575.35 L431.45 574.98 L432.94 574.61 L434.43 574.25 L435.91 573.89 L437.40 573.54 L438.89 573.20 L440.38 572.86 L441.87 572.53 L443.36 572.20 L444.84 571.88 L446.33 571.56 L447.82 571.25 L449.31 570.95 L450.80 570.64 L452.28 570.35 L453.77 570.06 L455.26 569.77 L456.75 569.49 L458.24 569.21 L459.73 568.94 L461.21 568.67 L462.70 568.40 L464.19 568.14 L465.68 567.88 L467.17 567.63 L468.66 567.38 L470.14 567.13 L471.63 566.89 L473.12 566.65 L474.61 566.41 L476.10 566.18 L477.59 565.95 L479.07 565.72 L480.56 565.50 L482.05 565.28 L483.54 565.06 L485.03 564.84 L486.52 564.63 L488.00 564.42 L489.49 564.22 L490.98 564.01 L492.47 563.81 L493.96 563.62 L495.45 563.42 L496.93 563.23 L498.42 563.04 L499.91 562.85 L501.40 562.66" fill="none" stroke="#2c4a7e" stroke-width="2.1"/>
<path d="M322.80 652.80 L324.29 649.54 L325.78 646.45 L327.26 643.52 L328.75 640.73 L330.24 638.09 L331.73 635.56 L333.22 633.16 L334.71 630.86 L336.19 628.67 L337.68 626.57 L339.17 624.56 L340.66 622.64 L342.15 620.79 L343.64 619.02 L345.12 617.31 L346.61 615.68 L348.10 614.10 L349.59 612.58 L351.08 611.12 L352.57 609.71 L354.06 608.35 L355.54 607.04 L357.03 605.77 L358.52 604.54 L360.01 603.35 L361.50 602.20 L362.99 601.09 L364.47 600.02 L365.96 598.97 L367.45 597.96 L368.94 596.98 L370.43 596.02 L371.92 595.10 L373.40 594.20 L374.89 593.32 L376.38 592.47 L377.87 591.65 L379.36 590.84 L380.85 590.06 L382.33 589.30 L383.82 588.56 L385.31 587.83 L386.80 587.13 L388.29 586.44 L389.77 585.77 L391.26 585.12 L392.75 584.48 L394.24 583.86 L395.73 583.25 L397.22 582.65 L398.70 582.07 L400.19 581.51 L401.68 580.95 L403.17 580.41 L404.66 579.88 L406.15 579.36 L407.63 578.85 L409.12 578.36 L410.61 577.87 L412.10 577.39 L413.59 576.93 L415.08 576.47 L416.56 576.02 L418.05 575.58 L419.54 575.15 L421.03 574.73 L422.52 574.32 L424.01 573.91 L425.50 573.52 L426.98 573.13 L428.47 572.74 L429.96 572.37 L431.45 572.00 L432.94 571.64 L434.43 571.28 L435.91 570.93 L437.40 570.59 L438.89 570.25 L440.38 569.92 L441.87 569.59 L443.36 569.27 L444.84 568.96 L446.33 568.65 L447.82 568.34 L449.31 568.05 L450.80 567.75 L452.28 567.46 L453.77 567.18 L455.26 566.90 L456.75 566.62 L458.24 566.35 L459.73 566.08 L461.21 565.82 L462.70 565.56 L464.19 565.31 L465.68 565.05 L467.17 564.81 L468.66 564.56 L470.14 564.32 L471.63 564.09 L473.12 563.85 L474.61 563.62 L476.10 563.40 L477.59 563.17 L479.07 562.95 L480.56 562.74 L482.05 562.52 L483.54 562.31 L485.03 562.10 L486.52 561.90 L488.00 561.70 L489.49 561.50 L490.98 561.30 L492.47 561.11 L493.96 560.91 L495.45 560.72 L496.93 560.54 L498.42 560.35 L499.91 560.17 L501.40 559.99" fill="none" stroke="#a0002a" stroke-width="2.2" stroke-dasharray="5 3"/>
<line x1="367.45" y1="595.00" x2="367.45" y2="610.30" stroke="#161616" stroke-width="1.1"/>
<line x1="364.85" y1="595.00" x2="370.05" y2="595.00" stroke="#161616" stroke-width="1.1"/>
<line x1="364.85" y1="610.30" x2="370.05" y2="610.30" stroke="#161616" stroke-width="1.1"/>
<rect x="342.38" y="611.95" width="5.5" height="5.5" fill="#a0002a"/>
<rect x="364.70" y="596.71" width="5.5" height="5.5" fill="#a0002a"/>
<rect x="409.35" y="579.44" width="5.5" height="5.5" fill="#a0002a"/>
<rect x="498.65" y="567.88" width="5.5" height="5.5" fill="#a0002a"/>
<circle cx="345.12" cy="618.51" r="3" fill="#2c4a7e"/>
<circle cx="367.45" cy="603.27" r="3" fill="#2c4a7e"/>
<circle cx="412.10" cy="579.52" r="3" fill="#2c4a7e"/>
<circle cx="501.40" cy="567.96" r="3" fill="#2c4a7e"/>
<line x1="423.90" y1="622.00" x2="437.90" y2="622.00" stroke="#2c4a7e" stroke-width="1.9"/>
<circle cx="431.1" cy="622" r="3" fill="#2c4a7e"/>
<text x="442.7" y="625.6" font-size="10.8" textLength="32.1" lengthAdjust="spacingAndGlyphs" fill="#161616" stroke="#161616" stroke-width="0.18">Control</text>
<line x1="423.90" y1="637.90" x2="426.70" y2="637.90" stroke="#a0002a" stroke-width="2.0"/>
<line x1="435.90" y1="637.90" x2="438.70" y2="637.90" stroke="#a0002a" stroke-width="2.0"/>
<rect x="428.4" y="635.2" width="5.4" height="5.4" fill="#a0002a"/>
<text x="442.7" y="641.2" font-size="10.8" textLength="42.3" lengthAdjust="spacingAndGlyphs" fill="#161616" stroke="#161616" stroke-width="0.18">Aza/Pano</text>
</svg></body></html>
